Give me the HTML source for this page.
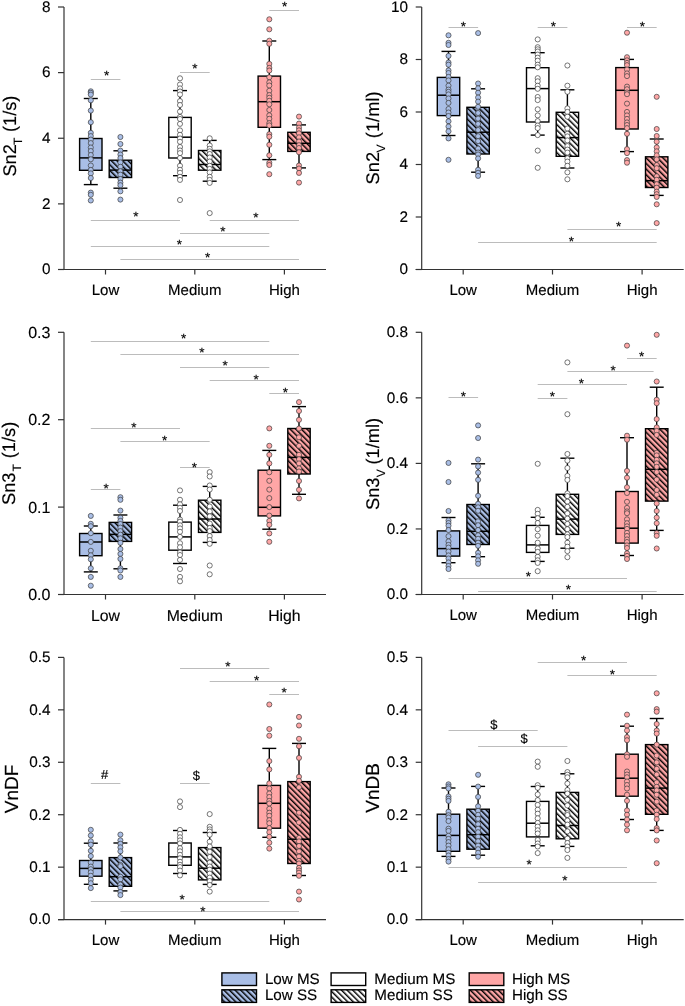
<!DOCTYPE html><html><head><meta charset="utf-8"><style>html,body{margin:0;padding:0;background:#fff;}svg{display:block;will-change:transform;}text{font-family:"Liberation Sans",sans-serif;text-rendering:geometricPrecision;stroke:#000;stroke-width:0.15px;}</style></head><body>
<svg width="685" height="1006" viewBox="0 0 685 1006">
<defs>
<pattern id="hb" patternUnits="userSpaceOnUse" width="3.96" height="3.96" patternTransform="rotate(-45)"><rect width="3.96" height="3.96" fill="#a9bee6"/><rect x="0" y="0" width="1.45" height="3.96" fill="#000"/></pattern>
<pattern id="hw" patternUnits="userSpaceOnUse" width="3.96" height="3.96" patternTransform="rotate(-45)"><rect width="3.96" height="3.96" fill="#ffffff"/><rect x="0" y="0" width="1.45" height="3.96" fill="#000"/></pattern>
<pattern id="hp" patternUnits="userSpaceOnUse" width="3.96" height="3.96" patternTransform="rotate(-45)"><rect width="3.96" height="3.96" fill="#ffa6a6"/><rect x="0" y="0" width="1.45" height="3.96" fill="#000"/></pattern>
</defs>
<rect width="685" height="1006" fill="#fff"/>
<line x1="64" y1="7" x2="64" y2="269.5" stroke="#333333" stroke-width="1.2"/>
<line x1="58" y1="269.5" x2="326" y2="269.5" stroke="#333333" stroke-width="1.2"/>
<line x1="58" y1="269.5" x2="64" y2="269.5" stroke="#333333" stroke-width="1.2"/>
<text x="50.4" y="274.35" font-size="15.3" text-anchor="end" fill="#000">0</text>
<line x1="58" y1="203.88" x2="64" y2="203.88" stroke="#333333" stroke-width="1.2"/>
<text x="50.4" y="208.72" font-size="15.3" text-anchor="end" fill="#000">2</text>
<line x1="58" y1="138.25" x2="64" y2="138.25" stroke="#333333" stroke-width="1.2"/>
<text x="50.4" y="143.1" font-size="15.3" text-anchor="end" fill="#000">4</text>
<line x1="58" y1="72.62" x2="64" y2="72.62" stroke="#333333" stroke-width="1.2"/>
<text x="50.4" y="77.47" font-size="15.3" text-anchor="end" fill="#000">6</text>
<line x1="58" y1="7" x2="64" y2="7" stroke="#333333" stroke-width="1.2"/>
<text x="50.4" y="11.85" font-size="15.3" text-anchor="end" fill="#000">8</text>
<line x1="105.5" y1="269.5" x2="105.5" y2="274.5" stroke="#333333" stroke-width="1.2"/>
<text x="105.5" y="294.6" font-size="15" text-anchor="middle" fill="#000">Low</text>
<line x1="194.8" y1="269.5" x2="194.8" y2="274.5" stroke="#333333" stroke-width="1.2"/>
<text x="194.8" y="294.6" font-size="15" text-anchor="middle" fill="#000">Medium</text>
<line x1="284.4" y1="269.5" x2="284.4" y2="274.5" stroke="#333333" stroke-width="1.2"/>
<text x="284.4" y="294.6" font-size="15" text-anchor="middle" fill="#000">High</text>
<text transform="translate(15.5,176.6) rotate(-90)" font-size="18.3" fill="#000">Sn2</text>
<text transform="translate(22,145) rotate(-90)" font-size="12" fill="#000">T</text>
<text transform="translate(15.5,132.1) rotate(-90)" font-size="18.3" fill="#000">(1/s)</text>
<line x1="421.7" y1="7" x2="421.7" y2="269.5" stroke="#333333" stroke-width="1.2"/>
<line x1="415.7" y1="269.5" x2="683.7" y2="269.5" stroke="#333333" stroke-width="1.2"/>
<line x1="415.7" y1="269.5" x2="421.7" y2="269.5" stroke="#333333" stroke-width="1.2"/>
<text x="408.1" y="274.35" font-size="15.3" text-anchor="end" fill="#000">0</text>
<line x1="415.7" y1="217" x2="421.7" y2="217" stroke="#333333" stroke-width="1.2"/>
<text x="408.1" y="221.85" font-size="15.3" text-anchor="end" fill="#000">2</text>
<line x1="415.7" y1="164.5" x2="421.7" y2="164.5" stroke="#333333" stroke-width="1.2"/>
<text x="408.1" y="169.35" font-size="15.3" text-anchor="end" fill="#000">4</text>
<line x1="415.7" y1="112" x2="421.7" y2="112" stroke="#333333" stroke-width="1.2"/>
<text x="408.1" y="116.85" font-size="15.3" text-anchor="end" fill="#000">6</text>
<line x1="415.7" y1="59.5" x2="421.7" y2="59.5" stroke="#333333" stroke-width="1.2"/>
<text x="408.1" y="64.35" font-size="15.3" text-anchor="end" fill="#000">8</text>
<line x1="415.7" y1="7" x2="421.7" y2="7" stroke="#333333" stroke-width="1.2"/>
<text x="408.1" y="11.85" font-size="15.3" text-anchor="end" fill="#000">10</text>
<line x1="463.2" y1="269.5" x2="463.2" y2="274.5" stroke="#333333" stroke-width="1.2"/>
<text x="463.2" y="294.5" font-size="15" text-anchor="middle" fill="#000">Low</text>
<line x1="552.5" y1="269.5" x2="552.5" y2="274.5" stroke="#333333" stroke-width="1.2"/>
<text x="552.5" y="294.5" font-size="15" text-anchor="middle" fill="#000">Medium</text>
<line x1="642.1" y1="269.5" x2="642.1" y2="274.5" stroke="#333333" stroke-width="1.2"/>
<text x="642.1" y="294.5" font-size="15" text-anchor="middle" fill="#000">High</text>
<text transform="translate(378.9,184.4) rotate(-90)" font-size="18.3" fill="#000">Sn2</text>
<text transform="translate(384.8,152.5) rotate(-90)" font-size="12" fill="#000">V</text>
<text transform="translate(378.9,138.2) rotate(-90)" font-size="18.3" fill="#000">(1/ml)</text>
<line x1="64" y1="332.3" x2="64" y2="594.5" stroke="#333333" stroke-width="1.2"/>
<line x1="58" y1="594.5" x2="326" y2="594.5" stroke="#333333" stroke-width="1.2"/>
<line x1="58" y1="594.5" x2="64" y2="594.5" stroke="#333333" stroke-width="1.2"/>
<text x="50.4" y="600" font-size="16" text-anchor="end" fill="#000">0.0</text>
<line x1="58" y1="507.1" x2="64" y2="507.1" stroke="#333333" stroke-width="1.2"/>
<text x="50.4" y="512.6" font-size="16" text-anchor="end" fill="#000">0.1</text>
<line x1="58" y1="419.7" x2="64" y2="419.7" stroke="#333333" stroke-width="1.2"/>
<text x="50.4" y="425.2" font-size="16" text-anchor="end" fill="#000">0.2</text>
<line x1="58" y1="332.3" x2="64" y2="332.3" stroke="#333333" stroke-width="1.2"/>
<text x="50.4" y="337.8" font-size="16" text-anchor="end" fill="#000">0.3</text>
<line x1="105.5" y1="594.5" x2="105.5" y2="599.5" stroke="#333333" stroke-width="1.2"/>
<text x="105.5" y="621.4" font-size="15.8" text-anchor="middle" fill="#000">Low</text>
<line x1="194.8" y1="594.5" x2="194.8" y2="599.5" stroke="#333333" stroke-width="1.2"/>
<text x="194.8" y="621.4" font-size="15.8" text-anchor="middle" fill="#000">Medium</text>
<line x1="284.4" y1="594.5" x2="284.4" y2="599.5" stroke="#333333" stroke-width="1.2"/>
<text x="284.4" y="621.4" font-size="15.8" text-anchor="middle" fill="#000">High</text>
<text transform="translate(15.2,505) rotate(-90)" font-size="18.3" fill="#000">Sn3</text>
<text transform="translate(20.8,471.6) rotate(-90)" font-size="12" fill="#000">T</text>
<text transform="translate(15.2,458.3) rotate(-90)" font-size="18.3" fill="#000">(1/s)</text>
<line x1="421.7" y1="332.3" x2="421.7" y2="594.5" stroke="#333333" stroke-width="1.2"/>
<line x1="415.7" y1="594.5" x2="683.7" y2="594.5" stroke="#333333" stroke-width="1.2"/>
<line x1="415.7" y1="594.5" x2="421.7" y2="594.5" stroke="#333333" stroke-width="1.2"/>
<text x="408.1" y="599.35" font-size="15.3" text-anchor="end" fill="#000">0.0</text>
<line x1="415.7" y1="528.95" x2="421.7" y2="528.95" stroke="#333333" stroke-width="1.2"/>
<text x="408.1" y="533.8" font-size="15.3" text-anchor="end" fill="#000">0.2</text>
<line x1="415.7" y1="463.4" x2="421.7" y2="463.4" stroke="#333333" stroke-width="1.2"/>
<text x="408.1" y="468.25" font-size="15.3" text-anchor="end" fill="#000">0.4</text>
<line x1="415.7" y1="397.85" x2="421.7" y2="397.85" stroke="#333333" stroke-width="1.2"/>
<text x="408.1" y="402.7" font-size="15.3" text-anchor="end" fill="#000">0.6</text>
<line x1="415.7" y1="332.3" x2="421.7" y2="332.3" stroke="#333333" stroke-width="1.2"/>
<text x="408.1" y="337.15" font-size="15.3" text-anchor="end" fill="#000">0.8</text>
<line x1="463.2" y1="594.5" x2="463.2" y2="599.5" stroke="#333333" stroke-width="1.2"/>
<text x="463.2" y="619.5" font-size="15" text-anchor="middle" fill="#000">Low</text>
<line x1="552.5" y1="594.5" x2="552.5" y2="599.5" stroke="#333333" stroke-width="1.2"/>
<text x="552.5" y="619.5" font-size="15" text-anchor="middle" fill="#000">Medium</text>
<line x1="642.1" y1="594.5" x2="642.1" y2="599.5" stroke="#333333" stroke-width="1.2"/>
<text x="642.1" y="619.5" font-size="15" text-anchor="middle" fill="#000">High</text>
<text transform="translate(378.7,510) rotate(-90)" font-size="18.3" fill="#000">Sn3</text>
<text transform="translate(385.1,477.3) rotate(-90)" font-size="12" fill="#000">V</text>
<text transform="translate(378.7,464.6) rotate(-90)" font-size="18.3" fill="#000">(1/ml)</text>
<line x1="64" y1="657.4" x2="64" y2="919.6" stroke="#333333" stroke-width="1.2"/>
<line x1="58" y1="919.6" x2="326" y2="919.6" stroke="#333333" stroke-width="1.2"/>
<line x1="58" y1="919.6" x2="64" y2="919.6" stroke="#333333" stroke-width="1.2"/>
<text x="50.4" y="924.45" font-size="15.3" text-anchor="end" fill="#000">0.0</text>
<line x1="58" y1="867.16" x2="64" y2="867.16" stroke="#333333" stroke-width="1.2"/>
<text x="50.4" y="872.01" font-size="15.3" text-anchor="end" fill="#000">0.1</text>
<line x1="58" y1="814.72" x2="64" y2="814.72" stroke="#333333" stroke-width="1.2"/>
<text x="50.4" y="819.57" font-size="15.3" text-anchor="end" fill="#000">0.2</text>
<line x1="58" y1="762.28" x2="64" y2="762.28" stroke="#333333" stroke-width="1.2"/>
<text x="50.4" y="767.13" font-size="15.3" text-anchor="end" fill="#000">0.3</text>
<line x1="58" y1="709.84" x2="64" y2="709.84" stroke="#333333" stroke-width="1.2"/>
<text x="50.4" y="714.69" font-size="15.3" text-anchor="end" fill="#000">0.4</text>
<line x1="58" y1="657.4" x2="64" y2="657.4" stroke="#333333" stroke-width="1.2"/>
<text x="50.4" y="662.25" font-size="15.3" text-anchor="end" fill="#000">0.5</text>
<line x1="105.5" y1="919.6" x2="105.5" y2="924.6" stroke="#333333" stroke-width="1.2"/>
<text x="105.5" y="945.2" font-size="15" text-anchor="middle" fill="#000">Low</text>
<line x1="194.8" y1="919.6" x2="194.8" y2="924.6" stroke="#333333" stroke-width="1.2"/>
<text x="194.8" y="945.2" font-size="15" text-anchor="middle" fill="#000">Medium</text>
<line x1="284.4" y1="919.6" x2="284.4" y2="924.6" stroke="#333333" stroke-width="1.2"/>
<text x="284.4" y="945.2" font-size="15" text-anchor="middle" fill="#000">High</text>
<text transform="translate(18.4,813.2) rotate(-90)" font-size="19" fill="#000">VnDF</text>
<line x1="421.7" y1="657.4" x2="421.7" y2="919.6" stroke="#333333" stroke-width="1.2"/>
<line x1="415.7" y1="919.6" x2="683.7" y2="919.6" stroke="#333333" stroke-width="1.2"/>
<line x1="415.7" y1="919.6" x2="421.7" y2="919.6" stroke="#333333" stroke-width="1.2"/>
<text x="408.1" y="924.45" font-size="15.3" text-anchor="end" fill="#000">0.0</text>
<line x1="415.7" y1="867.16" x2="421.7" y2="867.16" stroke="#333333" stroke-width="1.2"/>
<text x="408.1" y="872.01" font-size="15.3" text-anchor="end" fill="#000">0.1</text>
<line x1="415.7" y1="814.72" x2="421.7" y2="814.72" stroke="#333333" stroke-width="1.2"/>
<text x="408.1" y="819.57" font-size="15.3" text-anchor="end" fill="#000">0.2</text>
<line x1="415.7" y1="762.28" x2="421.7" y2="762.28" stroke="#333333" stroke-width="1.2"/>
<text x="408.1" y="767.13" font-size="15.3" text-anchor="end" fill="#000">0.3</text>
<line x1="415.7" y1="709.84" x2="421.7" y2="709.84" stroke="#333333" stroke-width="1.2"/>
<text x="408.1" y="714.69" font-size="15.3" text-anchor="end" fill="#000">0.4</text>
<line x1="415.7" y1="657.4" x2="421.7" y2="657.4" stroke="#333333" stroke-width="1.2"/>
<text x="408.1" y="662.25" font-size="15.3" text-anchor="end" fill="#000">0.5</text>
<line x1="463.2" y1="919.6" x2="463.2" y2="924.6" stroke="#333333" stroke-width="1.2"/>
<text x="463.2" y="944.6" font-size="15" text-anchor="middle" fill="#000">Low</text>
<line x1="552.5" y1="919.6" x2="552.5" y2="924.6" stroke="#333333" stroke-width="1.2"/>
<text x="552.5" y="944.6" font-size="15" text-anchor="middle" fill="#000">Medium</text>
<line x1="642.1" y1="919.6" x2="642.1" y2="924.6" stroke="#333333" stroke-width="1.2"/>
<text x="642.1" y="944.6" font-size="15" text-anchor="middle" fill="#000">High</text>
<text transform="translate(378.7,812.7) rotate(-90)" font-size="19" fill="#000">VnDB</text>
<line x1="90.8" y1="79.5" x2="120.4" y2="79.5" stroke="#bcbcbc" stroke-width="1"/>
<text x="106.6" y="80.4" font-size="13.5" text-anchor="middle" fill="#000" stroke="#000" stroke-width="0.5">*</text>
<line x1="180" y1="72.5" x2="209.7" y2="72.5" stroke="#bcbcbc" stroke-width="1"/>
<text x="194.8" y="72.8" font-size="13.5" text-anchor="middle" fill="#000" stroke="#000" stroke-width="0.5">*</text>
<line x1="269.3" y1="10.5" x2="299" y2="10.5" stroke="#bcbcbc" stroke-width="1"/>
<text x="284.7" y="11.2" font-size="13.5" text-anchor="middle" fill="#000" stroke="#000" stroke-width="0.5">*</text>
<line x1="90.8" y1="220.5" x2="180" y2="220.5" stroke="#bcbcbc" stroke-width="1"/>
<text x="136" y="221.4" font-size="13.5" text-anchor="middle" fill="#000" stroke="#000" stroke-width="0.5">*</text>
<line x1="209.7" y1="220.5" x2="299" y2="220.5" stroke="#bcbcbc" stroke-width="1"/>
<text x="256" y="222" font-size="13.5" text-anchor="middle" fill="#000" stroke="#000" stroke-width="0.5">*</text>
<line x1="180" y1="233.5" x2="269.3" y2="233.5" stroke="#bcbcbc" stroke-width="1"/>
<text x="223" y="236.3" font-size="13.5" text-anchor="middle" fill="#000" stroke="#000" stroke-width="0.5">*</text>
<line x1="90.8" y1="246.5" x2="269.3" y2="246.5" stroke="#bcbcbc" stroke-width="1"/>
<text x="179.4" y="248.7" font-size="13.5" text-anchor="middle" fill="#000" stroke="#000" stroke-width="0.5">*</text>
<line x1="120.4" y1="259.5" x2="299" y2="259.5" stroke="#bcbcbc" stroke-width="1"/>
<text x="207.7" y="261.8" font-size="13.5" text-anchor="middle" fill="#000" stroke="#000" stroke-width="0.5">*</text>
<line x1="448.5" y1="27.5" x2="478.1" y2="27.5" stroke="#bcbcbc" stroke-width="1"/>
<text x="463.4" y="31" font-size="13.5" text-anchor="middle" fill="#000" stroke="#000" stroke-width="0.5">*</text>
<line x1="537.7" y1="27.5" x2="567.4" y2="27.5" stroke="#bcbcbc" stroke-width="1"/>
<text x="553.4" y="31.3" font-size="13.5" text-anchor="middle" fill="#000" stroke="#000" stroke-width="0.5">*</text>
<line x1="627" y1="27.5" x2="656.7" y2="27.5" stroke="#bcbcbc" stroke-width="1"/>
<text x="642.3" y="31.3" font-size="13.5" text-anchor="middle" fill="#000" stroke="#000" stroke-width="0.5">*</text>
<line x1="567.4" y1="229.5" x2="656.7" y2="229.5" stroke="#bcbcbc" stroke-width="1"/>
<text x="618.6" y="231" font-size="13.5" text-anchor="middle" fill="#000" stroke="#000" stroke-width="0.5">*</text>
<line x1="478.1" y1="242.5" x2="656.7" y2="242.5" stroke="#bcbcbc" stroke-width="1"/>
<text x="571.3" y="245.6" font-size="13.5" text-anchor="middle" fill="#000" stroke="#000" stroke-width="0.5">*</text>
<line x1="90.8" y1="341.5" x2="269.3" y2="341.5" stroke="#bcbcbc" stroke-width="1"/>
<text x="183.7" y="343.1" font-size="13.5" text-anchor="middle" fill="#000" stroke="#000" stroke-width="0.5">*</text>
<line x1="120.4" y1="354.5" x2="299" y2="354.5" stroke="#bcbcbc" stroke-width="1"/>
<text x="201.8" y="356.7" font-size="13.5" text-anchor="middle" fill="#000" stroke="#000" stroke-width="0.5">*</text>
<line x1="180" y1="367.5" x2="269.3" y2="367.5" stroke="#bcbcbc" stroke-width="1"/>
<text x="225.1" y="370.1" font-size="13.5" text-anchor="middle" fill="#000" stroke="#000" stroke-width="0.5">*</text>
<line x1="209.7" y1="380.5" x2="299" y2="380.5" stroke="#bcbcbc" stroke-width="1"/>
<text x="256.1" y="383.5" font-size="13.5" text-anchor="middle" fill="#000" stroke="#000" stroke-width="0.5">*</text>
<line x1="269.3" y1="393.5" x2="299" y2="393.5" stroke="#bcbcbc" stroke-width="1"/>
<text x="285.4" y="397.2" font-size="13.5" text-anchor="middle" fill="#000" stroke="#000" stroke-width="0.5">*</text>
<line x1="90.8" y1="428.5" x2="180" y2="428.5" stroke="#bcbcbc" stroke-width="1"/>
<text x="134" y="431.7" font-size="13.5" text-anchor="middle" fill="#000" stroke="#000" stroke-width="0.5">*</text>
<line x1="120.4" y1="441.5" x2="209.7" y2="441.5" stroke="#bcbcbc" stroke-width="1"/>
<text x="164.6" y="444.8" font-size="13.5" text-anchor="middle" fill="#000" stroke="#000" stroke-width="0.5">*</text>
<line x1="180" y1="467.5" x2="209.7" y2="467.5" stroke="#bcbcbc" stroke-width="1"/>
<text x="194.3" y="471.6" font-size="13.5" text-anchor="middle" fill="#000" stroke="#000" stroke-width="0.5">*</text>
<line x1="90.8" y1="489.5" x2="120.4" y2="489.5" stroke="#bcbcbc" stroke-width="1"/>
<text x="106.2" y="493.1" font-size="13.5" text-anchor="middle" fill="#000" stroke="#000" stroke-width="0.5">*</text>
<line x1="448.5" y1="397.5" x2="478.1" y2="397.5" stroke="#bcbcbc" stroke-width="1"/>
<text x="463.4" y="400.6" font-size="13.5" text-anchor="middle" fill="#000" stroke="#000" stroke-width="0.5">*</text>
<line x1="627" y1="358.5" x2="656.7" y2="358.5" stroke="#bcbcbc" stroke-width="1"/>
<text x="641.6" y="361" font-size="13.5" text-anchor="middle" fill="#000" stroke="#000" stroke-width="0.5">*</text>
<line x1="567.4" y1="371.5" x2="653.6" y2="371.5" stroke="#bcbcbc" stroke-width="1"/>
<text x="613.2" y="374.5" font-size="13.5" text-anchor="middle" fill="#000" stroke="#000" stroke-width="0.5">*</text>
<line x1="537.7" y1="384.5" x2="627" y2="384.5" stroke="#bcbcbc" stroke-width="1"/>
<text x="581.5" y="388" font-size="13.5" text-anchor="middle" fill="#000" stroke="#000" stroke-width="0.5">*</text>
<line x1="537.7" y1="398.5" x2="567.4" y2="398.5" stroke="#bcbcbc" stroke-width="1"/>
<text x="552.4" y="400.8" font-size="13.5" text-anchor="middle" fill="#000" stroke="#000" stroke-width="0.5">*</text>
<line x1="448.5" y1="578.5" x2="627" y2="578.5" stroke="#bcbcbc" stroke-width="1"/>
<text x="528.4" y="580.5" font-size="13.5" text-anchor="middle" fill="#000" stroke="#000" stroke-width="0.5">*</text>
<line x1="478.1" y1="591.5" x2="656.7" y2="591.5" stroke="#bcbcbc" stroke-width="1"/>
<text x="568.3" y="594" font-size="13.5" text-anchor="middle" fill="#000" stroke="#000" stroke-width="0.5">*</text>
<line x1="90.8" y1="783.5" x2="120.4" y2="783.5" stroke="#bcbcbc" stroke-width="1"/>
<text x="104.5" y="778.95" font-size="13" text-anchor="middle" fill="#000">#</text>
<line x1="180" y1="783.5" x2="209.7" y2="783.5" stroke="#bcbcbc" stroke-width="1"/>
<text x="196.3" y="779.65" font-size="13" text-anchor="middle" fill="#000">$</text>
<line x1="180" y1="668.5" x2="269.3" y2="668.5" stroke="#bcbcbc" stroke-width="1"/>
<text x="227.8" y="670.6" font-size="13.5" text-anchor="middle" fill="#000" stroke="#000" stroke-width="0.5">*</text>
<line x1="209.7" y1="681.5" x2="299" y2="681.5" stroke="#bcbcbc" stroke-width="1"/>
<text x="256.6" y="684.5" font-size="13.5" text-anchor="middle" fill="#000" stroke="#000" stroke-width="0.5">*</text>
<line x1="269.3" y1="694.5" x2="299" y2="694.5" stroke="#bcbcbc" stroke-width="1"/>
<text x="284.2" y="696.9" font-size="13.5" text-anchor="middle" fill="#000" stroke="#000" stroke-width="0.5">*</text>
<line x1="90.8" y1="901.5" x2="269.3" y2="901.5" stroke="#bcbcbc" stroke-width="1"/>
<text x="182.2" y="903.8" font-size="13.5" text-anchor="middle" fill="#000" stroke="#000" stroke-width="0.5">*</text>
<line x1="120.4" y1="911.5" x2="299" y2="911.5" stroke="#bcbcbc" stroke-width="1"/>
<text x="203" y="915.5" font-size="13.5" text-anchor="middle" fill="#000" stroke="#000" stroke-width="0.5">*</text>
<line x1="537.7" y1="662.5" x2="627" y2="662.5" stroke="#bcbcbc" stroke-width="1"/>
<text x="583.6" y="664.9" font-size="13.5" text-anchor="middle" fill="#000" stroke="#000" stroke-width="0.5">*</text>
<line x1="567.4" y1="675.5" x2="656.7" y2="675.5" stroke="#bcbcbc" stroke-width="1"/>
<text x="612.5" y="678.7" font-size="13.5" text-anchor="middle" fill="#000" stroke="#000" stroke-width="0.5">*</text>
<line x1="448.5" y1="730.5" x2="537.7" y2="730.5" stroke="#bcbcbc" stroke-width="1"/>
<text x="493.9" y="728.95" font-size="13" text-anchor="middle" fill="#000">$</text>
<line x1="478.1" y1="746.5" x2="567.4" y2="746.5" stroke="#bcbcbc" stroke-width="1"/>
<text x="524" y="743.25" font-size="13" text-anchor="middle" fill="#000">$</text>
<line x1="448.5" y1="867.5" x2="627" y2="867.5" stroke="#bcbcbc" stroke-width="1"/>
<text x="529.2" y="869.1" font-size="13.5" text-anchor="middle" fill="#000" stroke="#000" stroke-width="0.5">*</text>
<line x1="478.1" y1="882.5" x2="656.7" y2="882.5" stroke="#bcbcbc" stroke-width="1"/>
<text x="564.9" y="884.9" font-size="13.5" text-anchor="middle" fill="#000" stroke="#000" stroke-width="0.5">*</text>
<line x1="90.8" y1="98.5" x2="90.8" y2="138.5" stroke="#000" stroke-width="1.4"/>
<line x1="90.8" y1="170.3" x2="90.8" y2="184.6" stroke="#000" stroke-width="1.4"/>
<line x1="83.8" y1="98.5" x2="97.8" y2="98.5" stroke="#000" stroke-width="1.4"/>
<line x1="83.8" y1="184.6" x2="97.8" y2="184.6" stroke="#000" stroke-width="1.4"/>
<rect x="79.6" y="138.5" width="22.4" height="31.8" fill="#a9bee6" stroke="#000" stroke-width="1.4"/>
<line x1="79.6" y1="157.9" x2="102" y2="157.9" stroke="#000" stroke-width="1.5"/>
<circle cx="90.8" cy="91.3" r="2.55" fill="#a9bee6" stroke="#3c3c3c" stroke-width="0.7"/>
<circle cx="90.8" cy="92.8" r="2.55" fill="#a9bee6" stroke="#3c3c3c" stroke-width="0.7"/>
<circle cx="90.8" cy="94.6" r="2.55" fill="#a9bee6" stroke="#3c3c3c" stroke-width="0.7"/>
<circle cx="90.8" cy="100.3" r="2.55" fill="#a9bee6" stroke="#3c3c3c" stroke-width="0.7"/>
<circle cx="90.8" cy="110.6" r="2.55" fill="#a9bee6" stroke="#3c3c3c" stroke-width="0.7"/>
<circle cx="90.8" cy="122.2" r="2.55" fill="#a9bee6" stroke="#3c3c3c" stroke-width="0.7"/>
<circle cx="90.8" cy="132.8" r="2.55" fill="#a9bee6" stroke="#3c3c3c" stroke-width="0.7"/>
<circle cx="90.8" cy="136.1" r="2.55" fill="#a9bee6" stroke="#3c3c3c" stroke-width="0.7"/>
<circle cx="90.8" cy="139.6" r="2.55" fill="#a9bee6" stroke="#3c3c3c" stroke-width="0.7"/>
<circle cx="90.8" cy="143.1" r="2.55" fill="#a9bee6" stroke="#3c3c3c" stroke-width="0.7"/>
<circle cx="90.8" cy="147.5" r="2.55" fill="#a9bee6" stroke="#3c3c3c" stroke-width="0.7"/>
<circle cx="90.8" cy="151" r="2.55" fill="#a9bee6" stroke="#3c3c3c" stroke-width="0.7"/>
<circle cx="90.8" cy="155" r="2.55" fill="#a9bee6" stroke="#3c3c3c" stroke-width="0.7"/>
<circle cx="90.8" cy="159.3" r="2.55" fill="#a9bee6" stroke="#3c3c3c" stroke-width="0.7"/>
<circle cx="90.8" cy="165.5" r="2.55" fill="#a9bee6" stroke="#3c3c3c" stroke-width="0.7"/>
<circle cx="90.8" cy="169.9" r="2.55" fill="#a9bee6" stroke="#3c3c3c" stroke-width="0.7"/>
<circle cx="90.8" cy="173.4" r="2.55" fill="#a9bee6" stroke="#3c3c3c" stroke-width="0.7"/>
<circle cx="90.8" cy="178" r="2.55" fill="#a9bee6" stroke="#3c3c3c" stroke-width="0.7"/>
<circle cx="90.8" cy="192.6" r="2.55" fill="#a9bee6" stroke="#3c3c3c" stroke-width="0.7"/>
<circle cx="90.8" cy="194.8" r="2.55" fill="#a9bee6" stroke="#3c3c3c" stroke-width="0.7"/>
<circle cx="90.8" cy="200.5" r="2.55" fill="#a9bee6" stroke="#3c3c3c" stroke-width="0.7"/>
<line x1="120.4" y1="150.8" x2="120.4" y2="160.2" stroke="#000" stroke-width="1.4"/>
<line x1="120.4" y1="177.5" x2="120.4" y2="188.2" stroke="#000" stroke-width="1.4"/>
<line x1="113.4" y1="150.8" x2="127.4" y2="150.8" stroke="#000" stroke-width="1.4"/>
<line x1="113.4" y1="188.2" x2="127.4" y2="188.2" stroke="#000" stroke-width="1.4"/>
<rect x="109.2" y="160.2" width="22.4" height="17.3" fill="url(#hb)" stroke="#000" stroke-width="1.4"/>
<line x1="109.2" y1="170.1" x2="131.6" y2="170.1" stroke="#000" stroke-width="1.5"/>
<circle cx="120.4" cy="137" r="2.55" fill="#a9bee6" stroke="#3c3c3c" stroke-width="0.7"/>
<circle cx="120.4" cy="144" r="2.55" fill="#a9bee6" stroke="#3c3c3c" stroke-width="0.7"/>
<circle cx="120.4" cy="150.6" r="2.55" fill="#a9bee6" stroke="#3c3c3c" stroke-width="0.7"/>
<circle cx="120.4" cy="154.5" r="2.55" fill="#a9bee6" stroke="#3c3c3c" stroke-width="0.7"/>
<circle cx="120.4" cy="158" r="2.55" fill="#a9bee6" stroke="#3c3c3c" stroke-width="0.7"/>
<circle cx="120.4" cy="162.4" r="2.55" fill="#a9bee6" stroke="#3c3c3c" stroke-width="0.7"/>
<circle cx="120.4" cy="166.8" r="2.55" fill="#a9bee6" stroke="#3c3c3c" stroke-width="0.7"/>
<circle cx="120.4" cy="171.2" r="2.55" fill="#a9bee6" stroke="#3c3c3c" stroke-width="0.7"/>
<circle cx="120.4" cy="174.7" r="2.55" fill="#a9bee6" stroke="#3c3c3c" stroke-width="0.7"/>
<circle cx="120.4" cy="179" r="2.55" fill="#a9bee6" stroke="#3c3c3c" stroke-width="0.7"/>
<circle cx="120.4" cy="182.6" r="2.55" fill="#a9bee6" stroke="#3c3c3c" stroke-width="0.7"/>
<circle cx="120.4" cy="185.2" r="2.55" fill="#a9bee6" stroke="#3c3c3c" stroke-width="0.7"/>
<circle cx="120.4" cy="191.3" r="2.55" fill="#a9bee6" stroke="#3c3c3c" stroke-width="0.7"/>
<circle cx="120.4" cy="199.6" r="2.55" fill="#a9bee6" stroke="#3c3c3c" stroke-width="0.7"/>
<line x1="180" y1="90.6" x2="180" y2="117.4" stroke="#000" stroke-width="1.4"/>
<line x1="180" y1="158" x2="180" y2="175.7" stroke="#000" stroke-width="1.4"/>
<line x1="173" y1="90.6" x2="187" y2="90.6" stroke="#000" stroke-width="1.4"/>
<line x1="173" y1="175.7" x2="187" y2="175.7" stroke="#000" stroke-width="1.4"/>
<rect x="168.8" y="117.4" width="22.4" height="40.6" fill="#ffffff" stroke="#000" stroke-width="1.4"/>
<line x1="168.8" y1="137.2" x2="191.2" y2="137.2" stroke="#000" stroke-width="1.5"/>
<circle cx="180" cy="78.3" r="2.55" fill="#ffffff" stroke="#3c3c3c" stroke-width="0.7"/>
<circle cx="180" cy="84.5" r="2.55" fill="#ffffff" stroke="#3c3c3c" stroke-width="0.7"/>
<circle cx="180" cy="88.4" r="2.55" fill="#ffffff" stroke="#3c3c3c" stroke-width="0.7"/>
<circle cx="180" cy="91.5" r="2.55" fill="#ffffff" stroke="#3c3c3c" stroke-width="0.7"/>
<circle cx="180" cy="94.5" r="2.55" fill="#ffffff" stroke="#3c3c3c" stroke-width="0.7"/>
<circle cx="180" cy="101.1" r="2.55" fill="#ffffff" stroke="#3c3c3c" stroke-width="0.7"/>
<circle cx="180" cy="105" r="2.55" fill="#ffffff" stroke="#3c3c3c" stroke-width="0.7"/>
<circle cx="180" cy="111.6" r="2.55" fill="#ffffff" stroke="#3c3c3c" stroke-width="0.7"/>
<circle cx="180" cy="116.9" r="2.55" fill="#ffffff" stroke="#3c3c3c" stroke-width="0.7"/>
<circle cx="180" cy="119" r="2.55" fill="#ffffff" stroke="#3c3c3c" stroke-width="0.7"/>
<circle cx="180" cy="123.9" r="2.55" fill="#ffffff" stroke="#3c3c3c" stroke-width="0.7"/>
<circle cx="180" cy="130.4" r="2.55" fill="#ffffff" stroke="#3c3c3c" stroke-width="0.7"/>
<circle cx="180" cy="134.8" r="2.55" fill="#ffffff" stroke="#3c3c3c" stroke-width="0.7"/>
<circle cx="180" cy="138.5" r="2.55" fill="#ffffff" stroke="#3c3c3c" stroke-width="0.7"/>
<circle cx="180" cy="141.8" r="2.55" fill="#ffffff" stroke="#3c3c3c" stroke-width="0.7"/>
<circle cx="180" cy="147" r="2.55" fill="#ffffff" stroke="#3c3c3c" stroke-width="0.7"/>
<circle cx="180" cy="150.5" r="2.55" fill="#ffffff" stroke="#3c3c3c" stroke-width="0.7"/>
<circle cx="180" cy="153.1" r="2.55" fill="#ffffff" stroke="#3c3c3c" stroke-width="0.7"/>
<circle cx="180" cy="158" r="2.55" fill="#ffffff" stroke="#3c3c3c" stroke-width="0.7"/>
<circle cx="180" cy="165.8" r="2.55" fill="#ffffff" stroke="#3c3c3c" stroke-width="0.7"/>
<circle cx="180" cy="169.8" r="2.55" fill="#ffffff" stroke="#3c3c3c" stroke-width="0.7"/>
<circle cx="180" cy="172.8" r="2.55" fill="#ffffff" stroke="#3c3c3c" stroke-width="0.7"/>
<circle cx="180" cy="176.8" r="2.55" fill="#ffffff" stroke="#3c3c3c" stroke-width="0.7"/>
<circle cx="180" cy="179.9" r="2.55" fill="#ffffff" stroke="#3c3c3c" stroke-width="0.7"/>
<circle cx="180" cy="200" r="2.55" fill="#ffffff" stroke="#3c3c3c" stroke-width="0.7"/>
<line x1="209.7" y1="140.4" x2="209.7" y2="150.5" stroke="#000" stroke-width="1.4"/>
<line x1="209.7" y1="170.2" x2="209.7" y2="181.2" stroke="#000" stroke-width="1.4"/>
<line x1="202.7" y1="140.4" x2="216.7" y2="140.4" stroke="#000" stroke-width="1.4"/>
<line x1="202.7" y1="181.2" x2="216.7" y2="181.2" stroke="#000" stroke-width="1.4"/>
<rect x="198.5" y="150.5" width="22.4" height="19.7" fill="url(#hw)" stroke="#000" stroke-width="1.4"/>
<line x1="198.5" y1="164.5" x2="220.9" y2="164.5" stroke="#000" stroke-width="1.5"/>
<circle cx="209.7" cy="138.3" r="2.55" fill="#ffffff" stroke="#3c3c3c" stroke-width="0.7"/>
<circle cx="209.7" cy="145.5" r="2.55" fill="#ffffff" stroke="#3c3c3c" stroke-width="0.7"/>
<circle cx="209.7" cy="148.8" r="2.55" fill="#ffffff" stroke="#3c3c3c" stroke-width="0.7"/>
<circle cx="209.7" cy="151.4" r="2.55" fill="#ffffff" stroke="#3c3c3c" stroke-width="0.7"/>
<circle cx="209.7" cy="154" r="2.55" fill="#ffffff" stroke="#3c3c3c" stroke-width="0.7"/>
<circle cx="209.7" cy="157.5" r="2.55" fill="#ffffff" stroke="#3c3c3c" stroke-width="0.7"/>
<circle cx="209.7" cy="161.5" r="2.55" fill="#ffffff" stroke="#3c3c3c" stroke-width="0.7"/>
<circle cx="209.7" cy="165.8" r="2.55" fill="#ffffff" stroke="#3c3c3c" stroke-width="0.7"/>
<circle cx="209.7" cy="168.9" r="2.55" fill="#ffffff" stroke="#3c3c3c" stroke-width="0.7"/>
<circle cx="209.7" cy="172.4" r="2.55" fill="#ffffff" stroke="#3c3c3c" stroke-width="0.7"/>
<circle cx="209.7" cy="176.8" r="2.55" fill="#ffffff" stroke="#3c3c3c" stroke-width="0.7"/>
<circle cx="209.7" cy="179.9" r="2.55" fill="#ffffff" stroke="#3c3c3c" stroke-width="0.7"/>
<circle cx="209.7" cy="182.9" r="2.55" fill="#ffffff" stroke="#3c3c3c" stroke-width="0.7"/>
<circle cx="209.7" cy="213.1" r="2.55" fill="#ffffff" stroke="#3c3c3c" stroke-width="0.7"/>
<line x1="269.3" y1="41" x2="269.3" y2="76.1" stroke="#000" stroke-width="1.4"/>
<line x1="269.3" y1="127.3" x2="269.3" y2="159.6" stroke="#000" stroke-width="1.4"/>
<line x1="262.3" y1="41" x2="276.3" y2="41" stroke="#000" stroke-width="1.4"/>
<line x1="262.3" y1="159.6" x2="276.3" y2="159.6" stroke="#000" stroke-width="1.4"/>
<rect x="258.1" y="76.1" width="22.4" height="51.2" fill="#ffa6a6" stroke="#000" stroke-width="1.4"/>
<line x1="258.1" y1="101.7" x2="280.5" y2="101.7" stroke="#000" stroke-width="1.5"/>
<circle cx="269.3" cy="19.3" r="2.55" fill="#ffa6a6" stroke="#3c3c3c" stroke-width="0.7"/>
<circle cx="269.3" cy="29.3" r="2.55" fill="#ffa6a6" stroke="#3c3c3c" stroke-width="0.7"/>
<circle cx="269.3" cy="40.7" r="2.55" fill="#ffa6a6" stroke="#3c3c3c" stroke-width="0.7"/>
<circle cx="269.3" cy="43.8" r="2.55" fill="#ffa6a6" stroke="#3c3c3c" stroke-width="0.7"/>
<circle cx="269.3" cy="63.9" r="2.55" fill="#ffa6a6" stroke="#3c3c3c" stroke-width="0.7"/>
<circle cx="269.3" cy="67.9" r="2.55" fill="#ffa6a6" stroke="#3c3c3c" stroke-width="0.7"/>
<circle cx="269.3" cy="70.5" r="2.55" fill="#ffa6a6" stroke="#3c3c3c" stroke-width="0.7"/>
<circle cx="269.3" cy="77.3" r="2.55" fill="#ffa6a6" stroke="#3c3c3c" stroke-width="0.7"/>
<circle cx="269.3" cy="82.4" r="2.55" fill="#ffa6a6" stroke="#3c3c3c" stroke-width="0.7"/>
<circle cx="269.3" cy="85.5" r="2.55" fill="#ffa6a6" stroke="#3c3c3c" stroke-width="0.7"/>
<circle cx="269.3" cy="90.8" r="2.55" fill="#ffa6a6" stroke="#3c3c3c" stroke-width="0.7"/>
<circle cx="269.3" cy="95.1" r="2.55" fill="#ffa6a6" stroke="#3c3c3c" stroke-width="0.7"/>
<circle cx="269.3" cy="97.8" r="2.55" fill="#ffa6a6" stroke="#3c3c3c" stroke-width="0.7"/>
<circle cx="269.3" cy="100.8" r="2.55" fill="#ffa6a6" stroke="#3c3c3c" stroke-width="0.7"/>
<circle cx="269.3" cy="104.3" r="2.55" fill="#ffa6a6" stroke="#3c3c3c" stroke-width="0.7"/>
<circle cx="269.3" cy="110" r="2.55" fill="#ffa6a6" stroke="#3c3c3c" stroke-width="0.7"/>
<circle cx="269.3" cy="115.3" r="2.55" fill="#ffa6a6" stroke="#3c3c3c" stroke-width="0.7"/>
<circle cx="269.3" cy="118.8" r="2.55" fill="#ffa6a6" stroke="#3c3c3c" stroke-width="0.7"/>
<circle cx="269.3" cy="123.2" r="2.55" fill="#ffa6a6" stroke="#3c3c3c" stroke-width="0.7"/>
<circle cx="269.3" cy="125.4" r="2.55" fill="#ffa6a6" stroke="#3c3c3c" stroke-width="0.7"/>
<circle cx="269.3" cy="134.2" r="2.55" fill="#ffa6a6" stroke="#3c3c3c" stroke-width="0.7"/>
<circle cx="269.3" cy="136.7" r="2.55" fill="#ffa6a6" stroke="#3c3c3c" stroke-width="0.7"/>
<circle cx="269.3" cy="144.8" r="2.55" fill="#ffa6a6" stroke="#3c3c3c" stroke-width="0.7"/>
<circle cx="269.3" cy="155.3" r="2.55" fill="#ffa6a6" stroke="#3c3c3c" stroke-width="0.7"/>
<circle cx="269.3" cy="162.8" r="2.55" fill="#ffa6a6" stroke="#3c3c3c" stroke-width="0.7"/>
<circle cx="269.3" cy="165" r="2.55" fill="#ffa6a6" stroke="#3c3c3c" stroke-width="0.7"/>
<circle cx="269.3" cy="174.2" r="2.55" fill="#ffa6a6" stroke="#3c3c3c" stroke-width="0.7"/>
<line x1="299" y1="124.9" x2="299" y2="132.3" stroke="#000" stroke-width="1.4"/>
<line x1="299" y1="151.4" x2="299" y2="167.9" stroke="#000" stroke-width="1.4"/>
<line x1="292" y1="124.9" x2="306" y2="124.9" stroke="#000" stroke-width="1.4"/>
<line x1="292" y1="167.9" x2="306" y2="167.9" stroke="#000" stroke-width="1.4"/>
<rect x="287.8" y="132.3" width="22.4" height="19.1" fill="url(#hp)" stroke="#000" stroke-width="1.4"/>
<line x1="287.8" y1="143.3" x2="310.2" y2="143.3" stroke="#000" stroke-width="1.5"/>
<circle cx="299" cy="116.6" r="2.55" fill="#ffa6a6" stroke="#3c3c3c" stroke-width="0.7"/>
<circle cx="299" cy="123.6" r="2.55" fill="#ffa6a6" stroke="#3c3c3c" stroke-width="0.7"/>
<circle cx="299" cy="127.6" r="2.55" fill="#ffa6a6" stroke="#3c3c3c" stroke-width="0.7"/>
<circle cx="299" cy="130.3" r="2.55" fill="#ffa6a6" stroke="#3c3c3c" stroke-width="0.7"/>
<circle cx="299" cy="133.3" r="2.55" fill="#ffa6a6" stroke="#3c3c3c" stroke-width="0.7"/>
<circle cx="299" cy="137.3" r="2.55" fill="#ffa6a6" stroke="#3c3c3c" stroke-width="0.7"/>
<circle cx="299" cy="141.5" r="2.55" fill="#ffa6a6" stroke="#3c3c3c" stroke-width="0.7"/>
<circle cx="299" cy="145.2" r="2.55" fill="#ffa6a6" stroke="#3c3c3c" stroke-width="0.7"/>
<circle cx="299" cy="148" r="2.55" fill="#ffa6a6" stroke="#3c3c3c" stroke-width="0.7"/>
<circle cx="299" cy="152.2" r="2.55" fill="#ffa6a6" stroke="#3c3c3c" stroke-width="0.7"/>
<circle cx="299" cy="165.5" r="2.55" fill="#ffa6a6" stroke="#3c3c3c" stroke-width="0.7"/>
<circle cx="299" cy="168.5" r="2.55" fill="#ffa6a6" stroke="#3c3c3c" stroke-width="0.7"/>
<circle cx="299" cy="172.9" r="2.55" fill="#ffa6a6" stroke="#3c3c3c" stroke-width="0.7"/>
<circle cx="299" cy="182.6" r="2.55" fill="#ffa6a6" stroke="#3c3c3c" stroke-width="0.7"/>
<line x1="448.5" y1="51.4" x2="448.5" y2="77.4" stroke="#000" stroke-width="1.4"/>
<line x1="448.5" y1="115.6" x2="448.5" y2="135.5" stroke="#000" stroke-width="1.4"/>
<line x1="441.5" y1="51.4" x2="455.5" y2="51.4" stroke="#000" stroke-width="1.4"/>
<line x1="441.5" y1="135.5" x2="455.5" y2="135.5" stroke="#000" stroke-width="1.4"/>
<rect x="437.3" y="77.4" width="22.4" height="38.2" fill="#a9bee6" stroke="#000" stroke-width="1.4"/>
<line x1="437.3" y1="95.2" x2="459.7" y2="95.2" stroke="#000" stroke-width="1.5"/>
<circle cx="448.5" cy="35.3" r="2.55" fill="#a9bee6" stroke="#3c3c3c" stroke-width="0.7"/>
<circle cx="448.5" cy="42.8" r="2.55" fill="#a9bee6" stroke="#3c3c3c" stroke-width="0.7"/>
<circle cx="448.5" cy="45" r="2.55" fill="#a9bee6" stroke="#3c3c3c" stroke-width="0.7"/>
<circle cx="448.5" cy="55.9" r="2.55" fill="#a9bee6" stroke="#3c3c3c" stroke-width="0.7"/>
<circle cx="448.5" cy="62.5" r="2.55" fill="#a9bee6" stroke="#3c3c3c" stroke-width="0.7"/>
<circle cx="448.5" cy="64.7" r="2.55" fill="#a9bee6" stroke="#3c3c3c" stroke-width="0.7"/>
<circle cx="448.5" cy="70.4" r="2.55" fill="#a9bee6" stroke="#3c3c3c" stroke-width="0.7"/>
<circle cx="448.5" cy="73" r="2.55" fill="#a9bee6" stroke="#3c3c3c" stroke-width="0.7"/>
<circle cx="448.5" cy="76.9" r="2.55" fill="#a9bee6" stroke="#3c3c3c" stroke-width="0.7"/>
<circle cx="448.5" cy="80.4" r="2.55" fill="#a9bee6" stroke="#3c3c3c" stroke-width="0.7"/>
<circle cx="448.5" cy="85.7" r="2.55" fill="#a9bee6" stroke="#3c3c3c" stroke-width="0.7"/>
<circle cx="448.5" cy="89.6" r="2.55" fill="#a9bee6" stroke="#3c3c3c" stroke-width="0.7"/>
<circle cx="448.5" cy="91.8" r="2.55" fill="#a9bee6" stroke="#3c3c3c" stroke-width="0.7"/>
<circle cx="448.5" cy="94.4" r="2.55" fill="#a9bee6" stroke="#3c3c3c" stroke-width="0.7"/>
<circle cx="448.5" cy="98.4" r="2.55" fill="#a9bee6" stroke="#3c3c3c" stroke-width="0.7"/>
<circle cx="448.5" cy="102.9" r="2.55" fill="#a9bee6" stroke="#3c3c3c" stroke-width="0.7"/>
<circle cx="448.5" cy="109" r="2.55" fill="#a9bee6" stroke="#3c3c3c" stroke-width="0.7"/>
<circle cx="448.5" cy="112.5" r="2.55" fill="#a9bee6" stroke="#3c3c3c" stroke-width="0.7"/>
<circle cx="448.5" cy="116" r="2.55" fill="#a9bee6" stroke="#3c3c3c" stroke-width="0.7"/>
<circle cx="448.5" cy="121.3" r="2.55" fill="#a9bee6" stroke="#3c3c3c" stroke-width="0.7"/>
<circle cx="448.5" cy="126.5" r="2.55" fill="#a9bee6" stroke="#3c3c3c" stroke-width="0.7"/>
<circle cx="448.5" cy="131.3" r="2.55" fill="#a9bee6" stroke="#3c3c3c" stroke-width="0.7"/>
<circle cx="448.5" cy="138.4" r="2.55" fill="#a9bee6" stroke="#3c3c3c" stroke-width="0.7"/>
<circle cx="448.5" cy="159.8" r="2.55" fill="#a9bee6" stroke="#3c3c3c" stroke-width="0.7"/>
<line x1="478.1" y1="88.8" x2="478.1" y2="107.3" stroke="#000" stroke-width="1.4"/>
<line x1="478.1" y1="154" x2="478.1" y2="172.2" stroke="#000" stroke-width="1.4"/>
<line x1="471.1" y1="88.8" x2="485.1" y2="88.8" stroke="#000" stroke-width="1.4"/>
<line x1="471.1" y1="172.2" x2="485.1" y2="172.2" stroke="#000" stroke-width="1.4"/>
<rect x="466.9" y="107.3" width="22.4" height="46.7" fill="url(#hb)" stroke="#000" stroke-width="1.4"/>
<line x1="466.9" y1="132.2" x2="489.3" y2="132.2" stroke="#000" stroke-width="1.5"/>
<circle cx="478.1" cy="33.1" r="2.55" fill="#a9bee6" stroke="#3c3c3c" stroke-width="0.7"/>
<circle cx="478.1" cy="83.5" r="2.55" fill="#a9bee6" stroke="#3c3c3c" stroke-width="0.7"/>
<circle cx="478.1" cy="88.3" r="2.55" fill="#a9bee6" stroke="#3c3c3c" stroke-width="0.7"/>
<circle cx="478.1" cy="92.7" r="2.55" fill="#a9bee6" stroke="#3c3c3c" stroke-width="0.7"/>
<circle cx="478.1" cy="97.5" r="2.55" fill="#a9bee6" stroke="#3c3c3c" stroke-width="0.7"/>
<circle cx="478.1" cy="101.6" r="2.55" fill="#a9bee6" stroke="#3c3c3c" stroke-width="0.7"/>
<circle cx="478.1" cy="106.8" r="2.55" fill="#a9bee6" stroke="#3c3c3c" stroke-width="0.7"/>
<circle cx="478.1" cy="113" r="2.55" fill="#a9bee6" stroke="#3c3c3c" stroke-width="0.7"/>
<circle cx="478.1" cy="118.6" r="2.55" fill="#a9bee6" stroke="#3c3c3c" stroke-width="0.7"/>
<circle cx="478.1" cy="123.9" r="2.55" fill="#a9bee6" stroke="#3c3c3c" stroke-width="0.7"/>
<circle cx="478.1" cy="130" r="2.55" fill="#a9bee6" stroke="#3c3c3c" stroke-width="0.7"/>
<circle cx="478.1" cy="136.2" r="2.55" fill="#a9bee6" stroke="#3c3c3c" stroke-width="0.7"/>
<circle cx="478.1" cy="141.1" r="2.55" fill="#a9bee6" stroke="#3c3c3c" stroke-width="0.7"/>
<circle cx="478.1" cy="148.6" r="2.55" fill="#a9bee6" stroke="#3c3c3c" stroke-width="0.7"/>
<circle cx="478.1" cy="152.5" r="2.55" fill="#a9bee6" stroke="#3c3c3c" stroke-width="0.7"/>
<circle cx="478.1" cy="154.5" r="2.55" fill="#a9bee6" stroke="#3c3c3c" stroke-width="0.7"/>
<circle cx="478.1" cy="158.4" r="2.55" fill="#a9bee6" stroke="#3c3c3c" stroke-width="0.7"/>
<circle cx="478.1" cy="169.8" r="2.55" fill="#a9bee6" stroke="#3c3c3c" stroke-width="0.7"/>
<circle cx="478.1" cy="172.8" r="2.55" fill="#a9bee6" stroke="#3c3c3c" stroke-width="0.7"/>
<circle cx="478.1" cy="175.9" r="2.55" fill="#a9bee6" stroke="#3c3c3c" stroke-width="0.7"/>
<line x1="537.7" y1="52.7" x2="537.7" y2="67.7" stroke="#000" stroke-width="1.4"/>
<line x1="537.7" y1="122" x2="537.7" y2="135.1" stroke="#000" stroke-width="1.4"/>
<line x1="530.7" y1="52.7" x2="544.7" y2="52.7" stroke="#000" stroke-width="1.4"/>
<line x1="530.7" y1="135.1" x2="544.7" y2="135.1" stroke="#000" stroke-width="1.4"/>
<rect x="526.5" y="67.7" width="22.4" height="54.3" fill="#ffffff" stroke="#000" stroke-width="1.4"/>
<line x1="526.5" y1="88.6" x2="548.9" y2="88.6" stroke="#000" stroke-width="1.5"/>
<circle cx="537.7" cy="39.4" r="2.55" fill="#ffffff" stroke="#3c3c3c" stroke-width="0.7"/>
<circle cx="537.7" cy="47.2" r="2.55" fill="#ffffff" stroke="#3c3c3c" stroke-width="0.7"/>
<circle cx="537.7" cy="49.3" r="2.55" fill="#ffffff" stroke="#3c3c3c" stroke-width="0.7"/>
<circle cx="537.7" cy="51.5" r="2.55" fill="#ffffff" stroke="#3c3c3c" stroke-width="0.7"/>
<circle cx="537.7" cy="54.6" r="2.55" fill="#ffffff" stroke="#3c3c3c" stroke-width="0.7"/>
<circle cx="537.7" cy="57.7" r="2.55" fill="#ffffff" stroke="#3c3c3c" stroke-width="0.7"/>
<circle cx="537.7" cy="60.7" r="2.55" fill="#ffffff" stroke="#3c3c3c" stroke-width="0.7"/>
<circle cx="537.7" cy="64.7" r="2.55" fill="#ffffff" stroke="#3c3c3c" stroke-width="0.7"/>
<circle cx="537.7" cy="67.3" r="2.55" fill="#ffffff" stroke="#3c3c3c" stroke-width="0.7"/>
<circle cx="537.7" cy="78.2" r="2.55" fill="#ffffff" stroke="#3c3c3c" stroke-width="0.7"/>
<circle cx="537.7" cy="81.3" r="2.55" fill="#ffffff" stroke="#3c3c3c" stroke-width="0.7"/>
<circle cx="537.7" cy="85.7" r="2.55" fill="#ffffff" stroke="#3c3c3c" stroke-width="0.7"/>
<circle cx="537.7" cy="88.8" r="2.55" fill="#ffffff" stroke="#3c3c3c" stroke-width="0.7"/>
<circle cx="537.7" cy="97" r="2.55" fill="#ffffff" stroke="#3c3c3c" stroke-width="0.7"/>
<circle cx="537.7" cy="100.1" r="2.55" fill="#ffffff" stroke="#3c3c3c" stroke-width="0.7"/>
<circle cx="537.7" cy="109.3" r="2.55" fill="#ffffff" stroke="#3c3c3c" stroke-width="0.7"/>
<circle cx="537.7" cy="115.4" r="2.55" fill="#ffffff" stroke="#3c3c3c" stroke-width="0.7"/>
<circle cx="537.7" cy="121.1" r="2.55" fill="#ffffff" stroke="#3c3c3c" stroke-width="0.7"/>
<circle cx="537.7" cy="125.5" r="2.55" fill="#ffffff" stroke="#3c3c3c" stroke-width="0.7"/>
<circle cx="537.7" cy="128.1" r="2.55" fill="#ffffff" stroke="#3c3c3c" stroke-width="0.7"/>
<circle cx="537.7" cy="135.1" r="2.55" fill="#ffffff" stroke="#3c3c3c" stroke-width="0.7"/>
<circle cx="537.7" cy="150.6" r="2.55" fill="#ffffff" stroke="#3c3c3c" stroke-width="0.7"/>
<circle cx="537.7" cy="167.8" r="2.55" fill="#ffffff" stroke="#3c3c3c" stroke-width="0.7"/>
<line x1="567.4" y1="89.8" x2="567.4" y2="112.3" stroke="#000" stroke-width="1.4"/>
<line x1="567.4" y1="156.3" x2="567.4" y2="168" stroke="#000" stroke-width="1.4"/>
<line x1="560.4" y1="89.8" x2="574.4" y2="89.8" stroke="#000" stroke-width="1.4"/>
<line x1="560.4" y1="168" x2="574.4" y2="168" stroke="#000" stroke-width="1.4"/>
<rect x="556.2" y="112.3" width="22.4" height="44" fill="url(#hw)" stroke="#000" stroke-width="1.4"/>
<line x1="556.2" y1="137.6" x2="578.6" y2="137.6" stroke="#000" stroke-width="1.5"/>
<circle cx="567.4" cy="65.5" r="2.55" fill="#ffffff" stroke="#3c3c3c" stroke-width="0.7"/>
<circle cx="567.4" cy="85.7" r="2.55" fill="#ffffff" stroke="#3c3c3c" stroke-width="0.7"/>
<circle cx="567.4" cy="91.8" r="2.55" fill="#ffffff" stroke="#3c3c3c" stroke-width="0.7"/>
<circle cx="567.4" cy="108.4" r="2.55" fill="#ffffff" stroke="#3c3c3c" stroke-width="0.7"/>
<circle cx="567.4" cy="111.9" r="2.55" fill="#ffffff" stroke="#3c3c3c" stroke-width="0.7"/>
<circle cx="567.4" cy="116.7" r="2.55" fill="#ffffff" stroke="#3c3c3c" stroke-width="0.7"/>
<circle cx="567.4" cy="128.5" r="2.55" fill="#ffffff" stroke="#3c3c3c" stroke-width="0.7"/>
<circle cx="567.4" cy="133.8" r="2.55" fill="#ffffff" stroke="#3c3c3c" stroke-width="0.7"/>
<circle cx="567.4" cy="136.4" r="2.55" fill="#ffffff" stroke="#3c3c3c" stroke-width="0.7"/>
<circle cx="567.4" cy="140.4" r="2.55" fill="#ffffff" stroke="#3c3c3c" stroke-width="0.7"/>
<circle cx="567.4" cy="146.1" r="2.55" fill="#ffffff" stroke="#3c3c3c" stroke-width="0.7"/>
<circle cx="567.4" cy="149.6" r="2.55" fill="#ffffff" stroke="#3c3c3c" stroke-width="0.7"/>
<circle cx="567.4" cy="152.6" r="2.55" fill="#ffffff" stroke="#3c3c3c" stroke-width="0.7"/>
<circle cx="567.4" cy="158.3" r="2.55" fill="#ffffff" stroke="#3c3c3c" stroke-width="0.7"/>
<circle cx="567.4" cy="161.6" r="2.55" fill="#ffffff" stroke="#3c3c3c" stroke-width="0.7"/>
<circle cx="567.4" cy="165.8" r="2.55" fill="#ffffff" stroke="#3c3c3c" stroke-width="0.7"/>
<circle cx="567.4" cy="172.3" r="2.55" fill="#ffffff" stroke="#3c3c3c" stroke-width="0.7"/>
<circle cx="567.4" cy="179.3" r="2.55" fill="#ffffff" stroke="#3c3c3c" stroke-width="0.7"/>
<line x1="627" y1="59.4" x2="627" y2="67.6" stroke="#000" stroke-width="1.4"/>
<line x1="627" y1="129" x2="627" y2="151.6" stroke="#000" stroke-width="1.4"/>
<line x1="620" y1="59.4" x2="634" y2="59.4" stroke="#000" stroke-width="1.4"/>
<line x1="620" y1="151.6" x2="634" y2="151.6" stroke="#000" stroke-width="1.4"/>
<rect x="615.8" y="67.6" width="22.4" height="61.4" fill="#ffa6a6" stroke="#000" stroke-width="1.4"/>
<line x1="615.8" y1="90.3" x2="638.2" y2="90.3" stroke="#000" stroke-width="1.5"/>
<circle cx="627" cy="32.7" r="2.55" fill="#ffa6a6" stroke="#3c3c3c" stroke-width="0.7"/>
<circle cx="627" cy="57.2" r="2.55" fill="#ffa6a6" stroke="#3c3c3c" stroke-width="0.7"/>
<circle cx="627" cy="60.3" r="2.55" fill="#ffa6a6" stroke="#3c3c3c" stroke-width="0.7"/>
<circle cx="627" cy="62.9" r="2.55" fill="#ffa6a6" stroke="#3c3c3c" stroke-width="0.7"/>
<circle cx="627" cy="65.1" r="2.55" fill="#ffa6a6" stroke="#3c3c3c" stroke-width="0.7"/>
<circle cx="627" cy="69.5" r="2.55" fill="#ffa6a6" stroke="#3c3c3c" stroke-width="0.7"/>
<circle cx="627" cy="73.4" r="2.55" fill="#ffa6a6" stroke="#3c3c3c" stroke-width="0.7"/>
<circle cx="627" cy="76.1" r="2.55" fill="#ffa6a6" stroke="#3c3c3c" stroke-width="0.7"/>
<circle cx="627" cy="86.6" r="2.55" fill="#ffa6a6" stroke="#3c3c3c" stroke-width="0.7"/>
<circle cx="627" cy="89.2" r="2.55" fill="#ffa6a6" stroke="#3c3c3c" stroke-width="0.7"/>
<circle cx="627" cy="92.5" r="2.55" fill="#ffa6a6" stroke="#3c3c3c" stroke-width="0.7"/>
<circle cx="627" cy="94.2" r="2.55" fill="#ffa6a6" stroke="#3c3c3c" stroke-width="0.7"/>
<circle cx="627" cy="103.6" r="2.55" fill="#ffa6a6" stroke="#3c3c3c" stroke-width="0.7"/>
<circle cx="627" cy="111.9" r="2.55" fill="#ffa6a6" stroke="#3c3c3c" stroke-width="0.7"/>
<circle cx="627" cy="115.4" r="2.55" fill="#ffa6a6" stroke="#3c3c3c" stroke-width="0.7"/>
<circle cx="627" cy="118.9" r="2.55" fill="#ffa6a6" stroke="#3c3c3c" stroke-width="0.7"/>
<circle cx="627" cy="122.4" r="2.55" fill="#ffa6a6" stroke="#3c3c3c" stroke-width="0.7"/>
<circle cx="627" cy="125" r="2.55" fill="#ffa6a6" stroke="#3c3c3c" stroke-width="0.7"/>
<circle cx="627" cy="128.1" r="2.55" fill="#ffa6a6" stroke="#3c3c3c" stroke-width="0.7"/>
<circle cx="627" cy="133.8" r="2.55" fill="#ffa6a6" stroke="#3c3c3c" stroke-width="0.7"/>
<circle cx="627" cy="149.1" r="2.55" fill="#ffa6a6" stroke="#3c3c3c" stroke-width="0.7"/>
<circle cx="627" cy="153.1" r="2.55" fill="#ffa6a6" stroke="#3c3c3c" stroke-width="0.7"/>
<circle cx="627" cy="160.1" r="2.55" fill="#ffa6a6" stroke="#3c3c3c" stroke-width="0.7"/>
<circle cx="627" cy="162.7" r="2.55" fill="#ffa6a6" stroke="#3c3c3c" stroke-width="0.7"/>
<line x1="656.7" y1="139" x2="656.7" y2="156.8" stroke="#000" stroke-width="1.4"/>
<line x1="656.7" y1="187.5" x2="656.7" y2="195.4" stroke="#000" stroke-width="1.4"/>
<line x1="649.7" y1="139" x2="663.7" y2="139" stroke="#000" stroke-width="1.4"/>
<line x1="649.7" y1="195.4" x2="663.7" y2="195.4" stroke="#000" stroke-width="1.4"/>
<rect x="645.5" y="156.8" width="22.4" height="30.7" fill="url(#hp)" stroke="#000" stroke-width="1.4"/>
<line x1="645.5" y1="180.7" x2="667.9" y2="180.7" stroke="#000" stroke-width="1.5"/>
<circle cx="656.7" cy="96.8" r="2.55" fill="#ffa6a6" stroke="#3c3c3c" stroke-width="0.7"/>
<circle cx="656.7" cy="129" r="2.55" fill="#ffa6a6" stroke="#3c3c3c" stroke-width="0.7"/>
<circle cx="656.7" cy="136" r="2.55" fill="#ffa6a6" stroke="#3c3c3c" stroke-width="0.7"/>
<circle cx="656.7" cy="141.7" r="2.55" fill="#ffa6a6" stroke="#3c3c3c" stroke-width="0.7"/>
<circle cx="656.7" cy="147.4" r="2.55" fill="#ffa6a6" stroke="#3c3c3c" stroke-width="0.7"/>
<circle cx="656.7" cy="151.3" r="2.55" fill="#ffa6a6" stroke="#3c3c3c" stroke-width="0.7"/>
<circle cx="656.7" cy="155.3" r="2.55" fill="#ffa6a6" stroke="#3c3c3c" stroke-width="0.7"/>
<circle cx="656.7" cy="159.4" r="2.55" fill="#ffa6a6" stroke="#3c3c3c" stroke-width="0.7"/>
<circle cx="656.7" cy="165.1" r="2.55" fill="#ffa6a6" stroke="#3c3c3c" stroke-width="0.7"/>
<circle cx="656.7" cy="168.2" r="2.55" fill="#ffa6a6" stroke="#3c3c3c" stroke-width="0.7"/>
<circle cx="656.7" cy="176.3" r="2.55" fill="#ffa6a6" stroke="#3c3c3c" stroke-width="0.7"/>
<circle cx="656.7" cy="179.8" r="2.55" fill="#ffa6a6" stroke="#3c3c3c" stroke-width="0.7"/>
<circle cx="656.7" cy="184.2" r="2.55" fill="#ffa6a6" stroke="#3c3c3c" stroke-width="0.7"/>
<circle cx="656.7" cy="187.7" r="2.55" fill="#ffa6a6" stroke="#3c3c3c" stroke-width="0.7"/>
<circle cx="656.7" cy="191.6" r="2.55" fill="#ffa6a6" stroke="#3c3c3c" stroke-width="0.7"/>
<circle cx="656.7" cy="194.2" r="2.55" fill="#ffa6a6" stroke="#3c3c3c" stroke-width="0.7"/>
<circle cx="656.7" cy="196.9" r="2.55" fill="#ffa6a6" stroke="#3c3c3c" stroke-width="0.7"/>
<circle cx="656.7" cy="204.3" r="2.55" fill="#ffa6a6" stroke="#3c3c3c" stroke-width="0.7"/>
<circle cx="656.7" cy="223.1" r="2.55" fill="#ffa6a6" stroke="#3c3c3c" stroke-width="0.7"/>
<line x1="90.8" y1="526" x2="90.8" y2="533.5" stroke="#000" stroke-width="1.4"/>
<line x1="90.8" y1="555.7" x2="90.8" y2="571.9" stroke="#000" stroke-width="1.4"/>
<line x1="83.8" y1="526" x2="97.8" y2="526" stroke="#000" stroke-width="1.4"/>
<line x1="83.8" y1="571.9" x2="97.8" y2="571.9" stroke="#000" stroke-width="1.4"/>
<rect x="79.6" y="533.5" width="22.4" height="22.2" fill="#a9bee6" stroke="#000" stroke-width="1.4"/>
<line x1="79.6" y1="542" x2="102" y2="542" stroke="#000" stroke-width="1.5"/>
<circle cx="90.8" cy="515.9" r="2.55" fill="#a9bee6" stroke="#3c3c3c" stroke-width="0.7"/>
<circle cx="90.8" cy="523.8" r="2.55" fill="#a9bee6" stroke="#3c3c3c" stroke-width="0.7"/>
<circle cx="90.8" cy="526.2" r="2.55" fill="#a9bee6" stroke="#3c3c3c" stroke-width="0.7"/>
<circle cx="90.8" cy="533.2" r="2.55" fill="#a9bee6" stroke="#3c3c3c" stroke-width="0.7"/>
<circle cx="90.8" cy="541.9" r="2.55" fill="#a9bee6" stroke="#3c3c3c" stroke-width="0.7"/>
<circle cx="90.8" cy="550.8" r="2.55" fill="#a9bee6" stroke="#3c3c3c" stroke-width="0.7"/>
<circle cx="90.8" cy="555.3" r="2.55" fill="#a9bee6" stroke="#3c3c3c" stroke-width="0.7"/>
<circle cx="90.8" cy="559.3" r="2.55" fill="#a9bee6" stroke="#3c3c3c" stroke-width="0.7"/>
<circle cx="90.8" cy="568.3" r="2.55" fill="#a9bee6" stroke="#3c3c3c" stroke-width="0.7"/>
<circle cx="90.8" cy="576.9" r="2.55" fill="#a9bee6" stroke="#3c3c3c" stroke-width="0.7"/>
<circle cx="90.8" cy="585.7" r="2.55" fill="#a9bee6" stroke="#3c3c3c" stroke-width="0.7"/>
<line x1="120.4" y1="515" x2="120.4" y2="522.4" stroke="#000" stroke-width="1.4"/>
<line x1="120.4" y1="541.4" x2="120.4" y2="568.8" stroke="#000" stroke-width="1.4"/>
<line x1="113.4" y1="515" x2="127.4" y2="515" stroke="#000" stroke-width="1.4"/>
<line x1="113.4" y1="568.8" x2="127.4" y2="568.8" stroke="#000" stroke-width="1.4"/>
<rect x="109.2" y="522.4" width="22.4" height="19" fill="url(#hb)" stroke="#000" stroke-width="1.4"/>
<line x1="109.2" y1="534.4" x2="131.6" y2="534.4" stroke="#000" stroke-width="1.5"/>
<circle cx="120.4" cy="497.2" r="2.55" fill="#a9bee6" stroke="#3c3c3c" stroke-width="0.7"/>
<circle cx="120.4" cy="499.8" r="2.55" fill="#a9bee6" stroke="#3c3c3c" stroke-width="0.7"/>
<circle cx="120.4" cy="510.6" r="2.55" fill="#a9bee6" stroke="#3c3c3c" stroke-width="0.7"/>
<circle cx="120.4" cy="517.7" r="2.55" fill="#a9bee6" stroke="#3c3c3c" stroke-width="0.7"/>
<circle cx="120.4" cy="520.9" r="2.55" fill="#a9bee6" stroke="#3c3c3c" stroke-width="0.7"/>
<circle cx="120.4" cy="524" r="2.55" fill="#a9bee6" stroke="#3c3c3c" stroke-width="0.7"/>
<circle cx="120.4" cy="527.6" r="2.55" fill="#a9bee6" stroke="#3c3c3c" stroke-width="0.7"/>
<circle cx="120.4" cy="531.1" r="2.55" fill="#a9bee6" stroke="#3c3c3c" stroke-width="0.7"/>
<circle cx="120.4" cy="534.7" r="2.55" fill="#a9bee6" stroke="#3c3c3c" stroke-width="0.7"/>
<circle cx="120.4" cy="538.3" r="2.55" fill="#a9bee6" stroke="#3c3c3c" stroke-width="0.7"/>
<circle cx="120.4" cy="542.8" r="2.55" fill="#a9bee6" stroke="#3c3c3c" stroke-width="0.7"/>
<circle cx="120.4" cy="549" r="2.55" fill="#a9bee6" stroke="#3c3c3c" stroke-width="0.7"/>
<circle cx="120.4" cy="553.9" r="2.55" fill="#a9bee6" stroke="#3c3c3c" stroke-width="0.7"/>
<circle cx="120.4" cy="558.9" r="2.55" fill="#a9bee6" stroke="#3c3c3c" stroke-width="0.7"/>
<circle cx="120.4" cy="568.3" r="2.55" fill="#a9bee6" stroke="#3c3c3c" stroke-width="0.7"/>
<circle cx="120.4" cy="570.5" r="2.55" fill="#a9bee6" stroke="#3c3c3c" stroke-width="0.7"/>
<circle cx="120.4" cy="576.9" r="2.55" fill="#a9bee6" stroke="#3c3c3c" stroke-width="0.7"/>
<line x1="180" y1="505.2" x2="180" y2="522.1" stroke="#000" stroke-width="1.4"/>
<line x1="180" y1="550.2" x2="180" y2="563.5" stroke="#000" stroke-width="1.4"/>
<line x1="173" y1="505.2" x2="187" y2="505.2" stroke="#000" stroke-width="1.4"/>
<line x1="173" y1="563.5" x2="187" y2="563.5" stroke="#000" stroke-width="1.4"/>
<rect x="168.8" y="522.1" width="22.4" height="28.1" fill="#ffffff" stroke="#000" stroke-width="1.4"/>
<line x1="168.8" y1="536.9" x2="191.2" y2="536.9" stroke="#000" stroke-width="1.5"/>
<circle cx="180" cy="490.4" r="2.55" fill="#ffffff" stroke="#3c3c3c" stroke-width="0.7"/>
<circle cx="180" cy="499.8" r="2.55" fill="#ffffff" stroke="#3c3c3c" stroke-width="0.7"/>
<circle cx="180" cy="504.3" r="2.55" fill="#ffffff" stroke="#3c3c3c" stroke-width="0.7"/>
<circle cx="180" cy="507.8" r="2.55" fill="#ffffff" stroke="#3c3c3c" stroke-width="0.7"/>
<circle cx="180" cy="511" r="2.55" fill="#ffffff" stroke="#3c3c3c" stroke-width="0.7"/>
<circle cx="180" cy="519.5" r="2.55" fill="#ffffff" stroke="#3c3c3c" stroke-width="0.7"/>
<circle cx="180" cy="521.7" r="2.55" fill="#ffffff" stroke="#3c3c3c" stroke-width="0.7"/>
<circle cx="180" cy="525.3" r="2.55" fill="#ffffff" stroke="#3c3c3c" stroke-width="0.7"/>
<circle cx="180" cy="528.4" r="2.55" fill="#ffffff" stroke="#3c3c3c" stroke-width="0.7"/>
<circle cx="180" cy="531.8" r="2.55" fill="#ffffff" stroke="#3c3c3c" stroke-width="0.7"/>
<circle cx="180" cy="536.9" r="2.55" fill="#ffffff" stroke="#3c3c3c" stroke-width="0.7"/>
<circle cx="180" cy="543.2" r="2.55" fill="#ffffff" stroke="#3c3c3c" stroke-width="0.7"/>
<circle cx="180" cy="547.2" r="2.55" fill="#ffffff" stroke="#3c3c3c" stroke-width="0.7"/>
<circle cx="180" cy="552.4" r="2.55" fill="#ffffff" stroke="#3c3c3c" stroke-width="0.7"/>
<circle cx="180" cy="555" r="2.55" fill="#ffffff" stroke="#3c3c3c" stroke-width="0.7"/>
<circle cx="180" cy="559.9" r="2.55" fill="#ffffff" stroke="#3c3c3c" stroke-width="0.7"/>
<circle cx="180" cy="569" r="2.55" fill="#ffffff" stroke="#3c3c3c" stroke-width="0.7"/>
<circle cx="180" cy="576.9" r="2.55" fill="#ffffff" stroke="#3c3c3c" stroke-width="0.7"/>
<circle cx="180" cy="581.3" r="2.55" fill="#ffffff" stroke="#3c3c3c" stroke-width="0.7"/>
<line x1="209.7" y1="486.4" x2="209.7" y2="500.2" stroke="#000" stroke-width="1.4"/>
<line x1="209.7" y1="532.4" x2="209.7" y2="542.4" stroke="#000" stroke-width="1.4"/>
<line x1="202.7" y1="486.4" x2="216.7" y2="486.4" stroke="#000" stroke-width="1.4"/>
<line x1="202.7" y1="542.4" x2="216.7" y2="542.4" stroke="#000" stroke-width="1.4"/>
<rect x="198.5" y="500.2" width="22.4" height="32.2" fill="url(#hw)" stroke="#000" stroke-width="1.4"/>
<line x1="198.5" y1="519" x2="220.9" y2="519" stroke="#000" stroke-width="1.5"/>
<circle cx="209.7" cy="472.1" r="2.55" fill="#ffffff" stroke="#3c3c3c" stroke-width="0.7"/>
<circle cx="209.7" cy="476.5" r="2.55" fill="#ffffff" stroke="#3c3c3c" stroke-width="0.7"/>
<circle cx="209.7" cy="485.5" r="2.55" fill="#ffffff" stroke="#3c3c3c" stroke-width="0.7"/>
<circle cx="209.7" cy="489.5" r="2.55" fill="#ffffff" stroke="#3c3c3c" stroke-width="0.7"/>
<circle cx="209.7" cy="499.8" r="2.55" fill="#ffffff" stroke="#3c3c3c" stroke-width="0.7"/>
<circle cx="209.7" cy="506.5" r="2.55" fill="#ffffff" stroke="#3c3c3c" stroke-width="0.7"/>
<circle cx="209.7" cy="511.4" r="2.55" fill="#ffffff" stroke="#3c3c3c" stroke-width="0.7"/>
<circle cx="209.7" cy="516.3" r="2.55" fill="#ffffff" stroke="#3c3c3c" stroke-width="0.7"/>
<circle cx="209.7" cy="523.5" r="2.55" fill="#ffffff" stroke="#3c3c3c" stroke-width="0.7"/>
<circle cx="209.7" cy="528" r="2.55" fill="#ffffff" stroke="#3c3c3c" stroke-width="0.7"/>
<circle cx="209.7" cy="531.1" r="2.55" fill="#ffffff" stroke="#3c3c3c" stroke-width="0.7"/>
<circle cx="209.7" cy="536" r="2.55" fill="#ffffff" stroke="#3c3c3c" stroke-width="0.7"/>
<circle cx="209.7" cy="540" r="2.55" fill="#ffffff" stroke="#3c3c3c" stroke-width="0.7"/>
<circle cx="209.7" cy="543.8" r="2.55" fill="#ffffff" stroke="#3c3c3c" stroke-width="0.7"/>
<circle cx="209.7" cy="565.5" r="2.55" fill="#ffffff" stroke="#3c3c3c" stroke-width="0.7"/>
<circle cx="209.7" cy="574.3" r="2.55" fill="#ffffff" stroke="#3c3c3c" stroke-width="0.7"/>
<line x1="269.3" y1="450.4" x2="269.3" y2="470.2" stroke="#000" stroke-width="1.4"/>
<line x1="269.3" y1="515.9" x2="269.3" y2="529.2" stroke="#000" stroke-width="1.4"/>
<line x1="262.3" y1="450.4" x2="276.3" y2="450.4" stroke="#000" stroke-width="1.4"/>
<line x1="262.3" y1="529.2" x2="276.3" y2="529.2" stroke="#000" stroke-width="1.4"/>
<rect x="258.1" y="470.2" width="22.4" height="45.7" fill="#ffa6a6" stroke="#000" stroke-width="1.4"/>
<line x1="258.1" y1="507.3" x2="280.5" y2="507.3" stroke="#000" stroke-width="1.5"/>
<circle cx="269.3" cy="428.4" r="2.55" fill="#ffa6a6" stroke="#3c3c3c" stroke-width="0.7"/>
<circle cx="269.3" cy="445.8" r="2.55" fill="#ffa6a6" stroke="#3c3c3c" stroke-width="0.7"/>
<circle cx="269.3" cy="454.8" r="2.55" fill="#ffa6a6" stroke="#3c3c3c" stroke-width="0.7"/>
<circle cx="269.3" cy="463.4" r="2.55" fill="#ffa6a6" stroke="#3c3c3c" stroke-width="0.7"/>
<circle cx="269.3" cy="472.3" r="2.55" fill="#ffa6a6" stroke="#3c3c3c" stroke-width="0.7"/>
<circle cx="269.3" cy="480.8" r="2.55" fill="#ffa6a6" stroke="#3c3c3c" stroke-width="0.7"/>
<circle cx="269.3" cy="489.6" r="2.55" fill="#ffa6a6" stroke="#3c3c3c" stroke-width="0.7"/>
<circle cx="269.3" cy="498.1" r="2.55" fill="#ffa6a6" stroke="#3c3c3c" stroke-width="0.7"/>
<circle cx="269.3" cy="507.1" r="2.55" fill="#ffa6a6" stroke="#3c3c3c" stroke-width="0.7"/>
<circle cx="269.3" cy="515.6" r="2.55" fill="#ffa6a6" stroke="#3c3c3c" stroke-width="0.7"/>
<circle cx="269.3" cy="520.9" r="2.55" fill="#ffa6a6" stroke="#3c3c3c" stroke-width="0.7"/>
<circle cx="269.3" cy="524.8" r="2.55" fill="#ffa6a6" stroke="#3c3c3c" stroke-width="0.7"/>
<circle cx="269.3" cy="533.4" r="2.55" fill="#ffa6a6" stroke="#3c3c3c" stroke-width="0.7"/>
<circle cx="269.3" cy="541.8" r="2.55" fill="#ffa6a6" stroke="#3c3c3c" stroke-width="0.7"/>
<line x1="299" y1="406.6" x2="299" y2="428.5" stroke="#000" stroke-width="1.4"/>
<line x1="299" y1="474" x2="299" y2="494.3" stroke="#000" stroke-width="1.4"/>
<line x1="292" y1="406.6" x2="306" y2="406.6" stroke="#000" stroke-width="1.4"/>
<line x1="292" y1="494.3" x2="306" y2="494.3" stroke="#000" stroke-width="1.4"/>
<rect x="287.8" y="428.5" width="22.4" height="45.5" fill="url(#hp)" stroke="#000" stroke-width="1.4"/>
<line x1="287.8" y1="457.4" x2="310.2" y2="457.4" stroke="#000" stroke-width="1.5"/>
<circle cx="299" cy="402.1" r="2.55" fill="#ffa6a6" stroke="#3c3c3c" stroke-width="0.7"/>
<circle cx="299" cy="411" r="2.55" fill="#ffa6a6" stroke="#3c3c3c" stroke-width="0.7"/>
<circle cx="299" cy="419.8" r="2.55" fill="#ffa6a6" stroke="#3c3c3c" stroke-width="0.7"/>
<circle cx="299" cy="428.5" r="2.55" fill="#ffa6a6" stroke="#3c3c3c" stroke-width="0.7"/>
<circle cx="299" cy="437.3" r="2.55" fill="#ffa6a6" stroke="#3c3c3c" stroke-width="0.7"/>
<circle cx="299" cy="445.8" r="2.55" fill="#ffa6a6" stroke="#3c3c3c" stroke-width="0.7"/>
<circle cx="299" cy="454.8" r="2.55" fill="#ffa6a6" stroke="#3c3c3c" stroke-width="0.7"/>
<circle cx="299" cy="459.2" r="2.55" fill="#ffa6a6" stroke="#3c3c3c" stroke-width="0.7"/>
<circle cx="299" cy="463.4" r="2.55" fill="#ffa6a6" stroke="#3c3c3c" stroke-width="0.7"/>
<circle cx="299" cy="468.4" r="2.55" fill="#ffa6a6" stroke="#3c3c3c" stroke-width="0.7"/>
<circle cx="299" cy="471.5" r="2.55" fill="#ffa6a6" stroke="#3c3c3c" stroke-width="0.7"/>
<circle cx="299" cy="481" r="2.55" fill="#ffa6a6" stroke="#3c3c3c" stroke-width="0.7"/>
<circle cx="299" cy="489.8" r="2.55" fill="#ffa6a6" stroke="#3c3c3c" stroke-width="0.7"/>
<circle cx="299" cy="498.4" r="2.55" fill="#ffa6a6" stroke="#3c3c3c" stroke-width="0.7"/>
<line x1="448.5" y1="517.5" x2="448.5" y2="530.9" stroke="#000" stroke-width="1.4"/>
<line x1="448.5" y1="556.1" x2="448.5" y2="562.7" stroke="#000" stroke-width="1.4"/>
<line x1="441.5" y1="517.5" x2="455.5" y2="517.5" stroke="#000" stroke-width="1.4"/>
<line x1="441.5" y1="562.7" x2="455.5" y2="562.7" stroke="#000" stroke-width="1.4"/>
<rect x="437.3" y="530.9" width="22.4" height="25.2" fill="#a9bee6" stroke="#000" stroke-width="1.4"/>
<line x1="437.3" y1="548.6" x2="459.7" y2="548.6" stroke="#000" stroke-width="1.5"/>
<circle cx="448.5" cy="462.9" r="2.55" fill="#a9bee6" stroke="#3c3c3c" stroke-width="0.7"/>
<circle cx="448.5" cy="482" r="2.55" fill="#a9bee6" stroke="#3c3c3c" stroke-width="0.7"/>
<circle cx="448.5" cy="511" r="2.55" fill="#a9bee6" stroke="#3c3c3c" stroke-width="0.7"/>
<circle cx="448.5" cy="520.4" r="2.55" fill="#a9bee6" stroke="#3c3c3c" stroke-width="0.7"/>
<circle cx="448.5" cy="523" r="2.55" fill="#a9bee6" stroke="#3c3c3c" stroke-width="0.7"/>
<circle cx="448.5" cy="525.7" r="2.55" fill="#a9bee6" stroke="#3c3c3c" stroke-width="0.7"/>
<circle cx="448.5" cy="530" r="2.55" fill="#a9bee6" stroke="#3c3c3c" stroke-width="0.7"/>
<circle cx="448.5" cy="536.2" r="2.55" fill="#a9bee6" stroke="#3c3c3c" stroke-width="0.7"/>
<circle cx="448.5" cy="541.4" r="2.55" fill="#a9bee6" stroke="#3c3c3c" stroke-width="0.7"/>
<circle cx="448.5" cy="544.9" r="2.55" fill="#a9bee6" stroke="#3c3c3c" stroke-width="0.7"/>
<circle cx="448.5" cy="547.6" r="2.55" fill="#a9bee6" stroke="#3c3c3c" stroke-width="0.7"/>
<circle cx="448.5" cy="551.5" r="2.55" fill="#a9bee6" stroke="#3c3c3c" stroke-width="0.7"/>
<circle cx="448.5" cy="555.4" r="2.55" fill="#a9bee6" stroke="#3c3c3c" stroke-width="0.7"/>
<circle cx="448.5" cy="558.5" r="2.55" fill="#a9bee6" stroke="#3c3c3c" stroke-width="0.7"/>
<circle cx="448.5" cy="562.4" r="2.55" fill="#a9bee6" stroke="#3c3c3c" stroke-width="0.7"/>
<circle cx="448.5" cy="566" r="2.55" fill="#a9bee6" stroke="#3c3c3c" stroke-width="0.7"/>
<circle cx="448.5" cy="569" r="2.55" fill="#a9bee6" stroke="#3c3c3c" stroke-width="0.7"/>
<line x1="478.1" y1="463.8" x2="478.1" y2="504.5" stroke="#000" stroke-width="1.4"/>
<line x1="478.1" y1="544.5" x2="478.1" y2="556.7" stroke="#000" stroke-width="1.4"/>
<line x1="471.1" y1="463.8" x2="485.1" y2="463.8" stroke="#000" stroke-width="1.4"/>
<line x1="471.1" y1="556.7" x2="485.1" y2="556.7" stroke="#000" stroke-width="1.4"/>
<rect x="466.9" y="504.5" width="22.4" height="40" fill="url(#hb)" stroke="#000" stroke-width="1.4"/>
<line x1="466.9" y1="531.3" x2="489.3" y2="531.3" stroke="#000" stroke-width="1.5"/>
<circle cx="478.1" cy="425.4" r="2.55" fill="#a9bee6" stroke="#3c3c3c" stroke-width="0.7"/>
<circle cx="478.1" cy="438" r="2.55" fill="#a9bee6" stroke="#3c3c3c" stroke-width="0.7"/>
<circle cx="478.1" cy="459.6" r="2.55" fill="#a9bee6" stroke="#3c3c3c" stroke-width="0.7"/>
<circle cx="478.1" cy="466.4" r="2.55" fill="#a9bee6" stroke="#3c3c3c" stroke-width="0.7"/>
<circle cx="478.1" cy="472.6" r="2.55" fill="#a9bee6" stroke="#3c3c3c" stroke-width="0.7"/>
<circle cx="478.1" cy="479.8" r="2.55" fill="#a9bee6" stroke="#3c3c3c" stroke-width="0.7"/>
<circle cx="478.1" cy="495.8" r="2.55" fill="#a9bee6" stroke="#3c3c3c" stroke-width="0.7"/>
<circle cx="478.1" cy="503.8" r="2.55" fill="#a9bee6" stroke="#3c3c3c" stroke-width="0.7"/>
<circle cx="478.1" cy="507.3" r="2.55" fill="#a9bee6" stroke="#3c3c3c" stroke-width="0.7"/>
<circle cx="478.1" cy="510.8" r="2.55" fill="#a9bee6" stroke="#3c3c3c" stroke-width="0.7"/>
<circle cx="478.1" cy="521.3" r="2.55" fill="#a9bee6" stroke="#3c3c3c" stroke-width="0.7"/>
<circle cx="478.1" cy="525.2" r="2.55" fill="#a9bee6" stroke="#3c3c3c" stroke-width="0.7"/>
<circle cx="478.1" cy="530" r="2.55" fill="#a9bee6" stroke="#3c3c3c" stroke-width="0.7"/>
<circle cx="478.1" cy="535.3" r="2.55" fill="#a9bee6" stroke="#3c3c3c" stroke-width="0.7"/>
<circle cx="478.1" cy="538.8" r="2.55" fill="#a9bee6" stroke="#3c3c3c" stroke-width="0.7"/>
<circle cx="478.1" cy="542.7" r="2.55" fill="#a9bee6" stroke="#3c3c3c" stroke-width="0.7"/>
<circle cx="478.1" cy="545.8" r="2.55" fill="#a9bee6" stroke="#3c3c3c" stroke-width="0.7"/>
<circle cx="478.1" cy="552.8" r="2.55" fill="#a9bee6" stroke="#3c3c3c" stroke-width="0.7"/>
<circle cx="478.1" cy="556.3" r="2.55" fill="#a9bee6" stroke="#3c3c3c" stroke-width="0.7"/>
<circle cx="478.1" cy="560.3" r="2.55" fill="#a9bee6" stroke="#3c3c3c" stroke-width="0.7"/>
<circle cx="478.1" cy="563.8" r="2.55" fill="#a9bee6" stroke="#3c3c3c" stroke-width="0.7"/>
<line x1="537.7" y1="517.3" x2="537.7" y2="525.4" stroke="#000" stroke-width="1.4"/>
<line x1="537.7" y1="552.4" x2="537.7" y2="561.4" stroke="#000" stroke-width="1.4"/>
<line x1="530.7" y1="517.3" x2="544.7" y2="517.3" stroke="#000" stroke-width="1.4"/>
<line x1="530.7" y1="561.4" x2="544.7" y2="561.4" stroke="#000" stroke-width="1.4"/>
<rect x="526.5" y="525.4" width="22.4" height="27" fill="#ffffff" stroke="#000" stroke-width="1.4"/>
<line x1="526.5" y1="544.9" x2="548.9" y2="544.9" stroke="#000" stroke-width="1.5"/>
<circle cx="537.7" cy="463.8" r="2.55" fill="#ffffff" stroke="#3c3c3c" stroke-width="0.7"/>
<circle cx="537.7" cy="509.9" r="2.55" fill="#ffffff" stroke="#3c3c3c" stroke-width="0.7"/>
<circle cx="537.7" cy="513.8" r="2.55" fill="#ffffff" stroke="#3c3c3c" stroke-width="0.7"/>
<circle cx="537.7" cy="518.2" r="2.55" fill="#ffffff" stroke="#3c3c3c" stroke-width="0.7"/>
<circle cx="537.7" cy="523" r="2.55" fill="#ffffff" stroke="#3c3c3c" stroke-width="0.7"/>
<circle cx="537.7" cy="529.2" r="2.55" fill="#ffffff" stroke="#3c3c3c" stroke-width="0.7"/>
<circle cx="537.7" cy="535.7" r="2.55" fill="#ffffff" stroke="#3c3c3c" stroke-width="0.7"/>
<circle cx="537.7" cy="542.7" r="2.55" fill="#ffffff" stroke="#3c3c3c" stroke-width="0.7"/>
<circle cx="537.7" cy="548.4" r="2.55" fill="#ffffff" stroke="#3c3c3c" stroke-width="0.7"/>
<circle cx="537.7" cy="551.9" r="2.55" fill="#ffffff" stroke="#3c3c3c" stroke-width="0.7"/>
<circle cx="537.7" cy="556.8" r="2.55" fill="#ffffff" stroke="#3c3c3c" stroke-width="0.7"/>
<circle cx="537.7" cy="560.3" r="2.55" fill="#ffffff" stroke="#3c3c3c" stroke-width="0.7"/>
<circle cx="537.7" cy="562.9" r="2.55" fill="#ffffff" stroke="#3c3c3c" stroke-width="0.7"/>
<circle cx="537.7" cy="571.2" r="2.55" fill="#ffffff" stroke="#3c3c3c" stroke-width="0.7"/>
<line x1="567.4" y1="458.2" x2="567.4" y2="494.3" stroke="#000" stroke-width="1.4"/>
<line x1="567.4" y1="534.4" x2="567.4" y2="548.2" stroke="#000" stroke-width="1.4"/>
<line x1="560.4" y1="458.2" x2="574.4" y2="458.2" stroke="#000" stroke-width="1.4"/>
<line x1="560.4" y1="548.2" x2="574.4" y2="548.2" stroke="#000" stroke-width="1.4"/>
<rect x="556.2" y="494.3" width="22.4" height="40.1" fill="url(#hw)" stroke="#000" stroke-width="1.4"/>
<line x1="556.2" y1="519.1" x2="578.6" y2="519.1" stroke="#000" stroke-width="1.5"/>
<circle cx="567.4" cy="362.4" r="2.55" fill="#ffffff" stroke="#3c3c3c" stroke-width="0.7"/>
<circle cx="567.4" cy="414.2" r="2.55" fill="#ffffff" stroke="#3c3c3c" stroke-width="0.7"/>
<circle cx="567.4" cy="454" r="2.55" fill="#ffffff" stroke="#3c3c3c" stroke-width="0.7"/>
<circle cx="567.4" cy="460.6" r="2.55" fill="#ffffff" stroke="#3c3c3c" stroke-width="0.7"/>
<circle cx="567.4" cy="468" r="2.55" fill="#ffffff" stroke="#3c3c3c" stroke-width="0.7"/>
<circle cx="567.4" cy="475.9" r="2.55" fill="#ffffff" stroke="#3c3c3c" stroke-width="0.7"/>
<circle cx="567.4" cy="479.9" r="2.55" fill="#ffffff" stroke="#3c3c3c" stroke-width="0.7"/>
<circle cx="567.4" cy="493.4" r="2.55" fill="#ffffff" stroke="#3c3c3c" stroke-width="0.7"/>
<circle cx="567.4" cy="496.1" r="2.55" fill="#ffffff" stroke="#3c3c3c" stroke-width="0.7"/>
<circle cx="567.4" cy="501.6" r="2.55" fill="#ffffff" stroke="#3c3c3c" stroke-width="0.7"/>
<circle cx="567.4" cy="506.8" r="2.55" fill="#ffffff" stroke="#3c3c3c" stroke-width="0.7"/>
<circle cx="567.4" cy="513.4" r="2.55" fill="#ffffff" stroke="#3c3c3c" stroke-width="0.7"/>
<circle cx="567.4" cy="518.6" r="2.55" fill="#ffffff" stroke="#3c3c3c" stroke-width="0.7"/>
<circle cx="567.4" cy="523.9" r="2.55" fill="#ffffff" stroke="#3c3c3c" stroke-width="0.7"/>
<circle cx="567.4" cy="529.2" r="2.55" fill="#ffffff" stroke="#3c3c3c" stroke-width="0.7"/>
<circle cx="567.4" cy="534.4" r="2.55" fill="#ffffff" stroke="#3c3c3c" stroke-width="0.7"/>
<circle cx="567.4" cy="537" r="2.55" fill="#ffffff" stroke="#3c3c3c" stroke-width="0.7"/>
<circle cx="567.4" cy="542.7" r="2.55" fill="#ffffff" stroke="#3c3c3c" stroke-width="0.7"/>
<circle cx="567.4" cy="546.7" r="2.55" fill="#ffffff" stroke="#3c3c3c" stroke-width="0.7"/>
<circle cx="567.4" cy="551.1" r="2.55" fill="#ffffff" stroke="#3c3c3c" stroke-width="0.7"/>
<circle cx="567.4" cy="557.2" r="2.55" fill="#ffffff" stroke="#3c3c3c" stroke-width="0.7"/>
<line x1="627" y1="437.7" x2="627" y2="491.5" stroke="#000" stroke-width="1.4"/>
<line x1="627" y1="543.1" x2="627" y2="555.5" stroke="#000" stroke-width="1.4"/>
<line x1="620" y1="437.7" x2="634" y2="437.7" stroke="#000" stroke-width="1.4"/>
<line x1="620" y1="555.5" x2="634" y2="555.5" stroke="#000" stroke-width="1.4"/>
<rect x="615.8" y="491.5" width="22.4" height="51.6" fill="#ffa6a6" stroke="#000" stroke-width="1.4"/>
<line x1="615.8" y1="528.2" x2="638.2" y2="528.2" stroke="#000" stroke-width="1.5"/>
<circle cx="627" cy="345.6" r="2.55" fill="#ffa6a6" stroke="#3c3c3c" stroke-width="0.7"/>
<circle cx="627" cy="435.7" r="2.55" fill="#ffa6a6" stroke="#3c3c3c" stroke-width="0.7"/>
<circle cx="627" cy="439.7" r="2.55" fill="#ffa6a6" stroke="#3c3c3c" stroke-width="0.7"/>
<circle cx="627" cy="470.9" r="2.55" fill="#ffa6a6" stroke="#3c3c3c" stroke-width="0.7"/>
<circle cx="627" cy="477.7" r="2.55" fill="#ffa6a6" stroke="#3c3c3c" stroke-width="0.7"/>
<circle cx="627" cy="487.3" r="2.55" fill="#ffa6a6" stroke="#3c3c3c" stroke-width="0.7"/>
<circle cx="627" cy="493" r="2.55" fill="#ffa6a6" stroke="#3c3c3c" stroke-width="0.7"/>
<circle cx="627" cy="501.8" r="2.55" fill="#ffa6a6" stroke="#3c3c3c" stroke-width="0.7"/>
<circle cx="627" cy="507.9" r="2.55" fill="#ffa6a6" stroke="#3c3c3c" stroke-width="0.7"/>
<circle cx="627" cy="511.4" r="2.55" fill="#ffa6a6" stroke="#3c3c3c" stroke-width="0.7"/>
<circle cx="627" cy="513.2" r="2.55" fill="#ffa6a6" stroke="#3c3c3c" stroke-width="0.7"/>
<circle cx="627" cy="519.3" r="2.55" fill="#ffa6a6" stroke="#3c3c3c" stroke-width="0.7"/>
<circle cx="627" cy="523.2" r="2.55" fill="#ffa6a6" stroke="#3c3c3c" stroke-width="0.7"/>
<circle cx="627" cy="526.3" r="2.55" fill="#ffa6a6" stroke="#3c3c3c" stroke-width="0.7"/>
<circle cx="627" cy="528.9" r="2.55" fill="#ffa6a6" stroke="#3c3c3c" stroke-width="0.7"/>
<circle cx="627" cy="532.9" r="2.55" fill="#ffa6a6" stroke="#3c3c3c" stroke-width="0.7"/>
<circle cx="627" cy="536" r="2.55" fill="#ffa6a6" stroke="#3c3c3c" stroke-width="0.7"/>
<circle cx="627" cy="539.4" r="2.55" fill="#ffa6a6" stroke="#3c3c3c" stroke-width="0.7"/>
<circle cx="627" cy="542" r="2.55" fill="#ffa6a6" stroke="#3c3c3c" stroke-width="0.7"/>
<circle cx="627" cy="545.4" r="2.55" fill="#ffa6a6" stroke="#3c3c3c" stroke-width="0.7"/>
<circle cx="627" cy="548" r="2.55" fill="#ffa6a6" stroke="#3c3c3c" stroke-width="0.7"/>
<circle cx="627" cy="553.3" r="2.55" fill="#ffa6a6" stroke="#3c3c3c" stroke-width="0.7"/>
<circle cx="627" cy="555.9" r="2.55" fill="#ffa6a6" stroke="#3c3c3c" stroke-width="0.7"/>
<circle cx="627" cy="559" r="2.55" fill="#ffa6a6" stroke="#3c3c3c" stroke-width="0.7"/>
<line x1="656.7" y1="387.2" x2="656.7" y2="428.7" stroke="#000" stroke-width="1.4"/>
<line x1="656.7" y1="501.1" x2="656.7" y2="530.4" stroke="#000" stroke-width="1.4"/>
<line x1="649.7" y1="387.2" x2="663.7" y2="387.2" stroke="#000" stroke-width="1.4"/>
<line x1="649.7" y1="530.4" x2="663.7" y2="530.4" stroke="#000" stroke-width="1.4"/>
<rect x="645.5" y="428.7" width="22.4" height="72.4" fill="url(#hp)" stroke="#000" stroke-width="1.4"/>
<line x1="645.5" y1="469.3" x2="667.9" y2="469.3" stroke="#000" stroke-width="1.5"/>
<circle cx="656.7" cy="334.8" r="2.55" fill="#ffa6a6" stroke="#3c3c3c" stroke-width="0.7"/>
<circle cx="656.7" cy="381.5" r="2.55" fill="#ffa6a6" stroke="#3c3c3c" stroke-width="0.7"/>
<circle cx="656.7" cy="399.7" r="2.55" fill="#ffa6a6" stroke="#3c3c3c" stroke-width="0.7"/>
<circle cx="656.7" cy="403.2" r="2.55" fill="#ffa6a6" stroke="#3c3c3c" stroke-width="0.7"/>
<circle cx="656.7" cy="419.1" r="2.55" fill="#ffa6a6" stroke="#3c3c3c" stroke-width="0.7"/>
<circle cx="656.7" cy="427.4" r="2.55" fill="#ffa6a6" stroke="#3c3c3c" stroke-width="0.7"/>
<circle cx="656.7" cy="430.9" r="2.55" fill="#ffa6a6" stroke="#3c3c3c" stroke-width="0.7"/>
<circle cx="656.7" cy="434.9" r="2.55" fill="#ffa6a6" stroke="#3c3c3c" stroke-width="0.7"/>
<circle cx="656.7" cy="452.8" r="2.55" fill="#ffa6a6" stroke="#3c3c3c" stroke-width="0.7"/>
<circle cx="656.7" cy="455.4" r="2.55" fill="#ffa6a6" stroke="#3c3c3c" stroke-width="0.7"/>
<circle cx="656.7" cy="459.8" r="2.55" fill="#ffa6a6" stroke="#3c3c3c" stroke-width="0.7"/>
<circle cx="656.7" cy="463.3" r="2.55" fill="#ffa6a6" stroke="#3c3c3c" stroke-width="0.7"/>
<circle cx="656.7" cy="466.8" r="2.55" fill="#ffa6a6" stroke="#3c3c3c" stroke-width="0.7"/>
<circle cx="656.7" cy="472.1" r="2.55" fill="#ffa6a6" stroke="#3c3c3c" stroke-width="0.7"/>
<circle cx="656.7" cy="479.5" r="2.55" fill="#ffa6a6" stroke="#3c3c3c" stroke-width="0.7"/>
<circle cx="656.7" cy="490" r="2.55" fill="#ffa6a6" stroke="#3c3c3c" stroke-width="0.7"/>
<circle cx="656.7" cy="494.8" r="2.55" fill="#ffa6a6" stroke="#3c3c3c" stroke-width="0.7"/>
<circle cx="656.7" cy="503.5" r="2.55" fill="#ffa6a6" stroke="#3c3c3c" stroke-width="0.7"/>
<circle cx="656.7" cy="511" r="2.55" fill="#ffa6a6" stroke="#3c3c3c" stroke-width="0.7"/>
<circle cx="656.7" cy="517.6" r="2.55" fill="#ffa6a6" stroke="#3c3c3c" stroke-width="0.7"/>
<circle cx="656.7" cy="523.2" r="2.55" fill="#ffa6a6" stroke="#3c3c3c" stroke-width="0.7"/>
<circle cx="656.7" cy="533.1" r="2.55" fill="#ffa6a6" stroke="#3c3c3c" stroke-width="0.7"/>
<circle cx="656.7" cy="535.8" r="2.55" fill="#ffa6a6" stroke="#3c3c3c" stroke-width="0.7"/>
<circle cx="656.7" cy="548.5" r="2.55" fill="#ffa6a6" stroke="#3c3c3c" stroke-width="0.7"/>
<line x1="90.8" y1="843.2" x2="90.8" y2="860.5" stroke="#000" stroke-width="1.4"/>
<line x1="90.8" y1="876.2" x2="90.8" y2="884.3" stroke="#000" stroke-width="1.4"/>
<line x1="83.8" y1="843.2" x2="97.8" y2="843.2" stroke="#000" stroke-width="1.4"/>
<line x1="83.8" y1="884.3" x2="97.8" y2="884.3" stroke="#000" stroke-width="1.4"/>
<rect x="79.6" y="860.5" width="22.4" height="15.7" fill="#a9bee6" stroke="#000" stroke-width="1.4"/>
<line x1="79.6" y1="868.4" x2="102" y2="868.4" stroke="#000" stroke-width="1.5"/>
<circle cx="90.8" cy="829.8" r="2.55" fill="#a9bee6" stroke="#3c3c3c" stroke-width="0.7"/>
<circle cx="90.8" cy="835.5" r="2.55" fill="#a9bee6" stroke="#3c3c3c" stroke-width="0.7"/>
<circle cx="90.8" cy="841.2" r="2.55" fill="#a9bee6" stroke="#3c3c3c" stroke-width="0.7"/>
<circle cx="90.8" cy="844.7" r="2.55" fill="#a9bee6" stroke="#3c3c3c" stroke-width="0.7"/>
<circle cx="90.8" cy="850.8" r="2.55" fill="#a9bee6" stroke="#3c3c3c" stroke-width="0.7"/>
<circle cx="90.8" cy="856.1" r="2.55" fill="#a9bee6" stroke="#3c3c3c" stroke-width="0.7"/>
<circle cx="90.8" cy="862.7" r="2.55" fill="#a9bee6" stroke="#3c3c3c" stroke-width="0.7"/>
<circle cx="90.8" cy="866.6" r="2.55" fill="#a9bee6" stroke="#3c3c3c" stroke-width="0.7"/>
<circle cx="90.8" cy="869.2" r="2.55" fill="#a9bee6" stroke="#3c3c3c" stroke-width="0.7"/>
<circle cx="90.8" cy="872.3" r="2.55" fill="#a9bee6" stroke="#3c3c3c" stroke-width="0.7"/>
<circle cx="90.8" cy="875.8" r="2.55" fill="#a9bee6" stroke="#3c3c3c" stroke-width="0.7"/>
<circle cx="90.8" cy="879.7" r="2.55" fill="#a9bee6" stroke="#3c3c3c" stroke-width="0.7"/>
<circle cx="90.8" cy="883.2" r="2.55" fill="#a9bee6" stroke="#3c3c3c" stroke-width="0.7"/>
<circle cx="90.8" cy="888.1" r="2.55" fill="#a9bee6" stroke="#3c3c3c" stroke-width="0.7"/>
<line x1="120.4" y1="843" x2="120.4" y2="857.6" stroke="#000" stroke-width="1.4"/>
<line x1="120.4" y1="886.3" x2="120.4" y2="890.9" stroke="#000" stroke-width="1.4"/>
<line x1="113.4" y1="843" x2="127.4" y2="843" stroke="#000" stroke-width="1.4"/>
<line x1="113.4" y1="890.9" x2="127.4" y2="890.9" stroke="#000" stroke-width="1.4"/>
<rect x="109.2" y="857.6" width="22.4" height="28.7" fill="url(#hb)" stroke="#000" stroke-width="1.4"/>
<line x1="109.2" y1="876.7" x2="131.6" y2="876.7" stroke="#000" stroke-width="1.5"/>
<circle cx="120.4" cy="834.6" r="2.55" fill="#a9bee6" stroke="#3c3c3c" stroke-width="0.7"/>
<circle cx="120.4" cy="840.3" r="2.55" fill="#a9bee6" stroke="#3c3c3c" stroke-width="0.7"/>
<circle cx="120.4" cy="843.8" r="2.55" fill="#a9bee6" stroke="#3c3c3c" stroke-width="0.7"/>
<circle cx="120.4" cy="847.3" r="2.55" fill="#a9bee6" stroke="#3c3c3c" stroke-width="0.7"/>
<circle cx="120.4" cy="851.3" r="2.55" fill="#a9bee6" stroke="#3c3c3c" stroke-width="0.7"/>
<circle cx="120.4" cy="857.4" r="2.55" fill="#a9bee6" stroke="#3c3c3c" stroke-width="0.7"/>
<circle cx="120.4" cy="864.9" r="2.55" fill="#a9bee6" stroke="#3c3c3c" stroke-width="0.7"/>
<circle cx="120.4" cy="866.2" r="2.55" fill="#a9bee6" stroke="#3c3c3c" stroke-width="0.7"/>
<circle cx="120.4" cy="876.7" r="2.55" fill="#a9bee6" stroke="#3c3c3c" stroke-width="0.7"/>
<circle cx="120.4" cy="879.3" r="2.55" fill="#a9bee6" stroke="#3c3c3c" stroke-width="0.7"/>
<circle cx="120.4" cy="884.6" r="2.55" fill="#a9bee6" stroke="#3c3c3c" stroke-width="0.7"/>
<circle cx="120.4" cy="887.6" r="2.55" fill="#a9bee6" stroke="#3c3c3c" stroke-width="0.7"/>
<circle cx="120.4" cy="892" r="2.55" fill="#a9bee6" stroke="#3c3c3c" stroke-width="0.7"/>
<circle cx="120.4" cy="895.1" r="2.55" fill="#a9bee6" stroke="#3c3c3c" stroke-width="0.7"/>
<line x1="180" y1="830.5" x2="180" y2="843" stroke="#000" stroke-width="1.4"/>
<line x1="180" y1="865.3" x2="180" y2="873.5" stroke="#000" stroke-width="1.4"/>
<line x1="173" y1="830.5" x2="187" y2="830.5" stroke="#000" stroke-width="1.4"/>
<line x1="173" y1="873.5" x2="187" y2="873.5" stroke="#000" stroke-width="1.4"/>
<rect x="168.8" y="843" width="22.4" height="22.3" fill="#ffffff" stroke="#000" stroke-width="1.4"/>
<line x1="168.8" y1="856.9" x2="191.2" y2="856.9" stroke="#000" stroke-width="1.5"/>
<circle cx="180" cy="801.4" r="2.55" fill="#ffffff" stroke="#3c3c3c" stroke-width="0.7"/>
<circle cx="180" cy="807.1" r="2.55" fill="#ffffff" stroke="#3c3c3c" stroke-width="0.7"/>
<circle cx="180" cy="829.9" r="2.55" fill="#ffffff" stroke="#3c3c3c" stroke-width="0.7"/>
<circle cx="180" cy="833.8" r="2.55" fill="#ffffff" stroke="#3c3c3c" stroke-width="0.7"/>
<circle cx="180" cy="837.3" r="2.55" fill="#ffffff" stroke="#3c3c3c" stroke-width="0.7"/>
<circle cx="180" cy="840.4" r="2.55" fill="#ffffff" stroke="#3c3c3c" stroke-width="0.7"/>
<circle cx="180" cy="843.4" r="2.55" fill="#ffffff" stroke="#3c3c3c" stroke-width="0.7"/>
<circle cx="180" cy="848.2" r="2.55" fill="#ffffff" stroke="#3c3c3c" stroke-width="0.7"/>
<circle cx="180" cy="851.3" r="2.55" fill="#ffffff" stroke="#3c3c3c" stroke-width="0.7"/>
<circle cx="180" cy="854.8" r="2.55" fill="#ffffff" stroke="#3c3c3c" stroke-width="0.7"/>
<circle cx="180" cy="858.3" r="2.55" fill="#ffffff" stroke="#3c3c3c" stroke-width="0.7"/>
<circle cx="180" cy="861.8" r="2.55" fill="#ffffff" stroke="#3c3c3c" stroke-width="0.7"/>
<circle cx="180" cy="864.8" r="2.55" fill="#ffffff" stroke="#3c3c3c" stroke-width="0.7"/>
<circle cx="180" cy="867.1" r="2.55" fill="#ffffff" stroke="#3c3c3c" stroke-width="0.7"/>
<circle cx="180" cy="870.6" r="2.55" fill="#ffffff" stroke="#3c3c3c" stroke-width="0.7"/>
<circle cx="180" cy="875.4" r="2.55" fill="#ffffff" stroke="#3c3c3c" stroke-width="0.7"/>
<line x1="209.7" y1="832.5" x2="209.7" y2="847.6" stroke="#000" stroke-width="1.4"/>
<line x1="209.7" y1="879.9" x2="209.7" y2="884.4" stroke="#000" stroke-width="1.4"/>
<line x1="202.7" y1="832.5" x2="216.7" y2="832.5" stroke="#000" stroke-width="1.4"/>
<line x1="202.7" y1="884.4" x2="216.7" y2="884.4" stroke="#000" stroke-width="1.4"/>
<rect x="198.5" y="847.6" width="22.4" height="32.3" fill="url(#hw)" stroke="#000" stroke-width="1.4"/>
<line x1="198.5" y1="868.2" x2="220.9" y2="868.2" stroke="#000" stroke-width="1.5"/>
<circle cx="209.7" cy="814.1" r="2.55" fill="#ffffff" stroke="#3c3c3c" stroke-width="0.7"/>
<circle cx="209.7" cy="826.8" r="2.55" fill="#ffffff" stroke="#3c3c3c" stroke-width="0.7"/>
<circle cx="209.7" cy="829.4" r="2.55" fill="#ffffff" stroke="#3c3c3c" stroke-width="0.7"/>
<circle cx="209.7" cy="831.6" r="2.55" fill="#ffffff" stroke="#3c3c3c" stroke-width="0.7"/>
<circle cx="209.7" cy="834.7" r="2.55" fill="#ffffff" stroke="#3c3c3c" stroke-width="0.7"/>
<circle cx="209.7" cy="841.7" r="2.55" fill="#ffffff" stroke="#3c3c3c" stroke-width="0.7"/>
<circle cx="209.7" cy="846.5" r="2.55" fill="#ffffff" stroke="#3c3c3c" stroke-width="0.7"/>
<circle cx="209.7" cy="851.8" r="2.55" fill="#ffffff" stroke="#3c3c3c" stroke-width="0.7"/>
<circle cx="209.7" cy="857" r="2.55" fill="#ffffff" stroke="#3c3c3c" stroke-width="0.7"/>
<circle cx="209.7" cy="862.7" r="2.55" fill="#ffffff" stroke="#3c3c3c" stroke-width="0.7"/>
<circle cx="209.7" cy="866.5" r="2.55" fill="#ffffff" stroke="#3c3c3c" stroke-width="0.7"/>
<circle cx="209.7" cy="869.7" r="2.55" fill="#ffffff" stroke="#3c3c3c" stroke-width="0.7"/>
<circle cx="209.7" cy="873.6" r="2.55" fill="#ffffff" stroke="#3c3c3c" stroke-width="0.7"/>
<circle cx="209.7" cy="877.6" r="2.55" fill="#ffffff" stroke="#3c3c3c" stroke-width="0.7"/>
<circle cx="209.7" cy="881.1" r="2.55" fill="#ffffff" stroke="#3c3c3c" stroke-width="0.7"/>
<circle cx="209.7" cy="885" r="2.55" fill="#ffffff" stroke="#3c3c3c" stroke-width="0.7"/>
<circle cx="209.7" cy="891.6" r="2.55" fill="#ffffff" stroke="#3c3c3c" stroke-width="0.7"/>
<line x1="269.3" y1="748.4" x2="269.3" y2="785.4" stroke="#000" stroke-width="1.4"/>
<line x1="269.3" y1="828.2" x2="269.3" y2="837.3" stroke="#000" stroke-width="1.4"/>
<line x1="262.3" y1="748.4" x2="276.3" y2="748.4" stroke="#000" stroke-width="1.4"/>
<line x1="262.3" y1="837.3" x2="276.3" y2="837.3" stroke="#000" stroke-width="1.4"/>
<rect x="258.1" y="785.4" width="22.4" height="42.8" fill="#ffa6a6" stroke="#000" stroke-width="1.4"/>
<line x1="258.1" y1="803.3" x2="280.5" y2="803.3" stroke="#000" stroke-width="1.5"/>
<circle cx="269.3" cy="704.5" r="2.55" fill="#ffa6a6" stroke="#3c3c3c" stroke-width="0.7"/>
<circle cx="269.3" cy="729" r="2.55" fill="#ffa6a6" stroke="#3c3c3c" stroke-width="0.7"/>
<circle cx="269.3" cy="735.7" r="2.55" fill="#ffa6a6" stroke="#3c3c3c" stroke-width="0.7"/>
<circle cx="269.3" cy="761.1" r="2.55" fill="#ffa6a6" stroke="#3c3c3c" stroke-width="0.7"/>
<circle cx="269.3" cy="769.4" r="2.55" fill="#ffa6a6" stroke="#3c3c3c" stroke-width="0.7"/>
<circle cx="269.3" cy="783.4" r="2.55" fill="#ffa6a6" stroke="#3c3c3c" stroke-width="0.7"/>
<circle cx="269.3" cy="788.5" r="2.55" fill="#ffa6a6" stroke="#3c3c3c" stroke-width="0.7"/>
<circle cx="269.3" cy="793.5" r="2.55" fill="#ffa6a6" stroke="#3c3c3c" stroke-width="0.7"/>
<circle cx="269.3" cy="797" r="2.55" fill="#ffa6a6" stroke="#3c3c3c" stroke-width="0.7"/>
<circle cx="269.3" cy="800.9" r="2.55" fill="#ffa6a6" stroke="#3c3c3c" stroke-width="0.7"/>
<circle cx="269.3" cy="803.5" r="2.55" fill="#ffa6a6" stroke="#3c3c3c" stroke-width="0.7"/>
<circle cx="269.3" cy="808.8" r="2.55" fill="#ffa6a6" stroke="#3c3c3c" stroke-width="0.7"/>
<circle cx="269.3" cy="812.7" r="2.55" fill="#ffa6a6" stroke="#3c3c3c" stroke-width="0.7"/>
<circle cx="269.3" cy="815.8" r="2.55" fill="#ffa6a6" stroke="#3c3c3c" stroke-width="0.7"/>
<circle cx="269.3" cy="820.2" r="2.55" fill="#ffa6a6" stroke="#3c3c3c" stroke-width="0.7"/>
<circle cx="269.3" cy="823.2" r="2.55" fill="#ffa6a6" stroke="#3c3c3c" stroke-width="0.7"/>
<circle cx="269.3" cy="828.1" r="2.55" fill="#ffa6a6" stroke="#3c3c3c" stroke-width="0.7"/>
<circle cx="269.3" cy="832.2" r="2.55" fill="#ffa6a6" stroke="#3c3c3c" stroke-width="0.7"/>
<circle cx="269.3" cy="836.8" r="2.55" fill="#ffa6a6" stroke="#3c3c3c" stroke-width="0.7"/>
<circle cx="269.3" cy="842.7" r="2.55" fill="#ffa6a6" stroke="#3c3c3c" stroke-width="0.7"/>
<circle cx="269.3" cy="848.6" r="2.55" fill="#ffa6a6" stroke="#3c3c3c" stroke-width="0.7"/>
<line x1="299" y1="743.4" x2="299" y2="781.6" stroke="#000" stroke-width="1.4"/>
<line x1="299" y1="863.5" x2="299" y2="875.5" stroke="#000" stroke-width="1.4"/>
<line x1="292" y1="743.4" x2="306" y2="743.4" stroke="#000" stroke-width="1.4"/>
<line x1="292" y1="875.5" x2="306" y2="875.5" stroke="#000" stroke-width="1.4"/>
<rect x="287.8" y="781.6" width="22.4" height="81.9" fill="url(#hp)" stroke="#000" stroke-width="1.4"/>
<line x1="287.8" y1="839.2" x2="310.2" y2="839.2" stroke="#000" stroke-width="1.5"/>
<circle cx="299" cy="716.9" r="2.55" fill="#ffa6a6" stroke="#3c3c3c" stroke-width="0.7"/>
<circle cx="299" cy="725.5" r="2.55" fill="#ffa6a6" stroke="#3c3c3c" stroke-width="0.7"/>
<circle cx="299" cy="738.8" r="2.55" fill="#ffa6a6" stroke="#3c3c3c" stroke-width="0.7"/>
<circle cx="299" cy="746.2" r="2.55" fill="#ffa6a6" stroke="#3c3c3c" stroke-width="0.7"/>
<circle cx="299" cy="757.9" r="2.55" fill="#ffa6a6" stroke="#3c3c3c" stroke-width="0.7"/>
<circle cx="299" cy="776.8" r="2.55" fill="#ffa6a6" stroke="#3c3c3c" stroke-width="0.7"/>
<circle cx="299" cy="780.8" r="2.55" fill="#ffa6a6" stroke="#3c3c3c" stroke-width="0.7"/>
<circle cx="299" cy="787.3" r="2.55" fill="#ffa6a6" stroke="#3c3c3c" stroke-width="0.7"/>
<circle cx="299" cy="812.7" r="2.55" fill="#ffa6a6" stroke="#3c3c3c" stroke-width="0.7"/>
<circle cx="299" cy="822.4" r="2.55" fill="#ffa6a6" stroke="#3c3c3c" stroke-width="0.7"/>
<circle cx="299" cy="837.9" r="2.55" fill="#ffa6a6" stroke="#3c3c3c" stroke-width="0.7"/>
<circle cx="299" cy="841.4" r="2.55" fill="#ffa6a6" stroke="#3c3c3c" stroke-width="0.7"/>
<circle cx="299" cy="846" r="2.55" fill="#ffa6a6" stroke="#3c3c3c" stroke-width="0.7"/>
<circle cx="299" cy="851.3" r="2.55" fill="#ffa6a6" stroke="#3c3c3c" stroke-width="0.7"/>
<circle cx="299" cy="856.5" r="2.55" fill="#ffa6a6" stroke="#3c3c3c" stroke-width="0.7"/>
<circle cx="299" cy="860.9" r="2.55" fill="#ffa6a6" stroke="#3c3c3c" stroke-width="0.7"/>
<circle cx="299" cy="863.5" r="2.55" fill="#ffa6a6" stroke="#3c3c3c" stroke-width="0.7"/>
<circle cx="299" cy="867.9" r="2.55" fill="#ffa6a6" stroke="#3c3c3c" stroke-width="0.7"/>
<circle cx="299" cy="870.5" r="2.55" fill="#ffa6a6" stroke="#3c3c3c" stroke-width="0.7"/>
<circle cx="299" cy="872.7" r="2.55" fill="#ffa6a6" stroke="#3c3c3c" stroke-width="0.7"/>
<circle cx="299" cy="875.8" r="2.55" fill="#ffa6a6" stroke="#3c3c3c" stroke-width="0.7"/>
<circle cx="299" cy="891.6" r="2.55" fill="#ffa6a6" stroke="#3c3c3c" stroke-width="0.7"/>
<circle cx="299" cy="899.5" r="2.55" fill="#ffa6a6" stroke="#3c3c3c" stroke-width="0.7"/>
<line x1="448.5" y1="788" x2="448.5" y2="814.2" stroke="#000" stroke-width="1.4"/>
<line x1="448.5" y1="851.3" x2="448.5" y2="856.4" stroke="#000" stroke-width="1.4"/>
<line x1="441.5" y1="788" x2="455.5" y2="788" stroke="#000" stroke-width="1.4"/>
<line x1="441.5" y1="856.4" x2="455.5" y2="856.4" stroke="#000" stroke-width="1.4"/>
<rect x="437.3" y="814.2" width="22.4" height="37.1" fill="#a9bee6" stroke="#000" stroke-width="1.4"/>
<line x1="437.3" y1="835.4" x2="459.7" y2="835.4" stroke="#000" stroke-width="1.5"/>
<circle cx="448.5" cy="784.3" r="2.55" fill="#a9bee6" stroke="#3c3c3c" stroke-width="0.7"/>
<circle cx="448.5" cy="786.5" r="2.55" fill="#a9bee6" stroke="#3c3c3c" stroke-width="0.7"/>
<circle cx="448.5" cy="788.4" r="2.55" fill="#a9bee6" stroke="#3c3c3c" stroke-width="0.7"/>
<circle cx="448.5" cy="796.5" r="2.55" fill="#a9bee6" stroke="#3c3c3c" stroke-width="0.7"/>
<circle cx="448.5" cy="798.7" r="2.55" fill="#a9bee6" stroke="#3c3c3c" stroke-width="0.7"/>
<circle cx="448.5" cy="800.9" r="2.55" fill="#a9bee6" stroke="#3c3c3c" stroke-width="0.7"/>
<circle cx="448.5" cy="811.7" r="2.55" fill="#a9bee6" stroke="#3c3c3c" stroke-width="0.7"/>
<circle cx="448.5" cy="815.2" r="2.55" fill="#a9bee6" stroke="#3c3c3c" stroke-width="0.7"/>
<circle cx="448.5" cy="817.5" r="2.55" fill="#a9bee6" stroke="#3c3c3c" stroke-width="0.7"/>
<circle cx="448.5" cy="821.1" r="2.55" fill="#a9bee6" stroke="#3c3c3c" stroke-width="0.7"/>
<circle cx="448.5" cy="828.7" r="2.55" fill="#a9bee6" stroke="#3c3c3c" stroke-width="0.7"/>
<circle cx="448.5" cy="830.9" r="2.55" fill="#a9bee6" stroke="#3c3c3c" stroke-width="0.7"/>
<circle cx="448.5" cy="835.8" r="2.55" fill="#a9bee6" stroke="#3c3c3c" stroke-width="0.7"/>
<circle cx="448.5" cy="838.9" r="2.55" fill="#a9bee6" stroke="#3c3c3c" stroke-width="0.7"/>
<circle cx="448.5" cy="842.1" r="2.55" fill="#a9bee6" stroke="#3c3c3c" stroke-width="0.7"/>
<circle cx="448.5" cy="845.6" r="2.55" fill="#a9bee6" stroke="#3c3c3c" stroke-width="0.7"/>
<circle cx="448.5" cy="849.2" r="2.55" fill="#a9bee6" stroke="#3c3c3c" stroke-width="0.7"/>
<circle cx="448.5" cy="852.8" r="2.55" fill="#a9bee6" stroke="#3c3c3c" stroke-width="0.7"/>
<circle cx="448.5" cy="855.5" r="2.55" fill="#a9bee6" stroke="#3c3c3c" stroke-width="0.7"/>
<circle cx="448.5" cy="859.1" r="2.55" fill="#a9bee6" stroke="#3c3c3c" stroke-width="0.7"/>
<circle cx="448.5" cy="861.6" r="2.55" fill="#a9bee6" stroke="#3c3c3c" stroke-width="0.7"/>
<line x1="478.1" y1="786.4" x2="478.1" y2="809.2" stroke="#000" stroke-width="1.4"/>
<line x1="478.1" y1="849.2" x2="478.1" y2="855.2" stroke="#000" stroke-width="1.4"/>
<line x1="471.1" y1="786.4" x2="485.1" y2="786.4" stroke="#000" stroke-width="1.4"/>
<line x1="471.1" y1="855.2" x2="485.1" y2="855.2" stroke="#000" stroke-width="1.4"/>
<rect x="466.9" y="809.2" width="22.4" height="40" fill="url(#hb)" stroke="#000" stroke-width="1.4"/>
<line x1="466.9" y1="834.7" x2="489.3" y2="834.7" stroke="#000" stroke-width="1.5"/>
<circle cx="478.1" cy="774.8" r="2.55" fill="#a9bee6" stroke="#3c3c3c" stroke-width="0.7"/>
<circle cx="478.1" cy="786.6" r="2.55" fill="#a9bee6" stroke="#3c3c3c" stroke-width="0.7"/>
<circle cx="478.1" cy="796.9" r="2.55" fill="#a9bee6" stroke="#3c3c3c" stroke-width="0.7"/>
<circle cx="478.1" cy="806.3" r="2.55" fill="#a9bee6" stroke="#3c3c3c" stroke-width="0.7"/>
<circle cx="478.1" cy="810.8" r="2.55" fill="#a9bee6" stroke="#3c3c3c" stroke-width="0.7"/>
<circle cx="478.1" cy="814.8" r="2.55" fill="#a9bee6" stroke="#3c3c3c" stroke-width="0.7"/>
<circle cx="478.1" cy="818.8" r="2.55" fill="#a9bee6" stroke="#3c3c3c" stroke-width="0.7"/>
<circle cx="478.1" cy="824.2" r="2.55" fill="#a9bee6" stroke="#3c3c3c" stroke-width="0.7"/>
<circle cx="478.1" cy="828.7" r="2.55" fill="#a9bee6" stroke="#3c3c3c" stroke-width="0.7"/>
<circle cx="478.1" cy="832.2" r="2.55" fill="#a9bee6" stroke="#3c3c3c" stroke-width="0.7"/>
<circle cx="478.1" cy="836.7" r="2.55" fill="#a9bee6" stroke="#3c3c3c" stroke-width="0.7"/>
<circle cx="478.1" cy="841.2" r="2.55" fill="#a9bee6" stroke="#3c3c3c" stroke-width="0.7"/>
<circle cx="478.1" cy="845.6" r="2.55" fill="#a9bee6" stroke="#3c3c3c" stroke-width="0.7"/>
<circle cx="478.1" cy="849.2" r="2.55" fill="#a9bee6" stroke="#3c3c3c" stroke-width="0.7"/>
<circle cx="478.1" cy="852.8" r="2.55" fill="#a9bee6" stroke="#3c3c3c" stroke-width="0.7"/>
<circle cx="478.1" cy="856.7" r="2.55" fill="#a9bee6" stroke="#3c3c3c" stroke-width="0.7"/>
<line x1="537.7" y1="786.5" x2="537.7" y2="801.4" stroke="#000" stroke-width="1.4"/>
<line x1="537.7" y1="836.9" x2="537.7" y2="845.8" stroke="#000" stroke-width="1.4"/>
<line x1="530.7" y1="786.5" x2="544.7" y2="786.5" stroke="#000" stroke-width="1.4"/>
<line x1="530.7" y1="845.8" x2="544.7" y2="845.8" stroke="#000" stroke-width="1.4"/>
<rect x="526.5" y="801.4" width="22.4" height="35.5" fill="#ffffff" stroke="#000" stroke-width="1.4"/>
<line x1="526.5" y1="823.2" x2="548.9" y2="823.2" stroke="#000" stroke-width="1.5"/>
<circle cx="537.7" cy="761.6" r="2.55" fill="#ffffff" stroke="#3c3c3c" stroke-width="0.7"/>
<circle cx="537.7" cy="766.8" r="2.55" fill="#ffffff" stroke="#3c3c3c" stroke-width="0.7"/>
<circle cx="537.7" cy="785.2" r="2.55" fill="#ffffff" stroke="#3c3c3c" stroke-width="0.7"/>
<circle cx="537.7" cy="787.8" r="2.55" fill="#ffffff" stroke="#3c3c3c" stroke-width="0.7"/>
<circle cx="537.7" cy="794.4" r="2.55" fill="#ffffff" stroke="#3c3c3c" stroke-width="0.7"/>
<circle cx="537.7" cy="800.1" r="2.55" fill="#ffffff" stroke="#3c3c3c" stroke-width="0.7"/>
<circle cx="537.7" cy="804.9" r="2.55" fill="#ffffff" stroke="#3c3c3c" stroke-width="0.7"/>
<circle cx="537.7" cy="809.7" r="2.55" fill="#ffffff" stroke="#3c3c3c" stroke-width="0.7"/>
<circle cx="537.7" cy="813.7" r="2.55" fill="#ffffff" stroke="#3c3c3c" stroke-width="0.7"/>
<circle cx="537.7" cy="818.3" r="2.55" fill="#ffffff" stroke="#3c3c3c" stroke-width="0.7"/>
<circle cx="537.7" cy="822.9" r="2.55" fill="#ffffff" stroke="#3c3c3c" stroke-width="0.7"/>
<circle cx="537.7" cy="826.6" r="2.55" fill="#ffffff" stroke="#3c3c3c" stroke-width="0.7"/>
<circle cx="537.7" cy="830.3" r="2.55" fill="#ffffff" stroke="#3c3c3c" stroke-width="0.7"/>
<circle cx="537.7" cy="833.5" r="2.55" fill="#ffffff" stroke="#3c3c3c" stroke-width="0.7"/>
<circle cx="537.7" cy="840" r="2.55" fill="#ffffff" stroke="#3c3c3c" stroke-width="0.7"/>
<circle cx="537.7" cy="843.5" r="2.55" fill="#ffffff" stroke="#3c3c3c" stroke-width="0.7"/>
<circle cx="537.7" cy="846.5" r="2.55" fill="#ffffff" stroke="#3c3c3c" stroke-width="0.7"/>
<circle cx="537.7" cy="853.1" r="2.55" fill="#ffffff" stroke="#3c3c3c" stroke-width="0.7"/>
<line x1="567.4" y1="773.8" x2="567.4" y2="792.4" stroke="#000" stroke-width="1.4"/>
<line x1="567.4" y1="838.8" x2="567.4" y2="846.4" stroke="#000" stroke-width="1.4"/>
<line x1="560.4" y1="773.8" x2="574.4" y2="773.8" stroke="#000" stroke-width="1.4"/>
<line x1="560.4" y1="846.4" x2="574.4" y2="846.4" stroke="#000" stroke-width="1.4"/>
<rect x="556.2" y="792.4" width="22.4" height="46.4" fill="url(#hw)" stroke="#000" stroke-width="1.4"/>
<line x1="556.2" y1="825.5" x2="578.6" y2="825.5" stroke="#000" stroke-width="1.5"/>
<circle cx="567.4" cy="761" r="2.55" fill="#ffffff" stroke="#3c3c3c" stroke-width="0.7"/>
<circle cx="567.4" cy="772.1" r="2.55" fill="#ffffff" stroke="#3c3c3c" stroke-width="0.7"/>
<circle cx="567.4" cy="774.7" r="2.55" fill="#ffffff" stroke="#3c3c3c" stroke-width="0.7"/>
<circle cx="567.4" cy="777.3" r="2.55" fill="#ffffff" stroke="#3c3c3c" stroke-width="0.7"/>
<circle cx="567.4" cy="783.5" r="2.55" fill="#ffffff" stroke="#3c3c3c" stroke-width="0.7"/>
<circle cx="567.4" cy="790" r="2.55" fill="#ffffff" stroke="#3c3c3c" stroke-width="0.7"/>
<circle cx="567.4" cy="793.5" r="2.55" fill="#ffffff" stroke="#3c3c3c" stroke-width="0.7"/>
<circle cx="567.4" cy="799.7" r="2.55" fill="#ffffff" stroke="#3c3c3c" stroke-width="0.7"/>
<circle cx="567.4" cy="805.4" r="2.55" fill="#ffffff" stroke="#3c3c3c" stroke-width="0.7"/>
<circle cx="567.4" cy="813.2" r="2.55" fill="#ffffff" stroke="#3c3c3c" stroke-width="0.7"/>
<circle cx="567.4" cy="815" r="2.55" fill="#ffffff" stroke="#3c3c3c" stroke-width="0.7"/>
<circle cx="567.4" cy="820.5" r="2.55" fill="#ffffff" stroke="#3c3c3c" stroke-width="0.7"/>
<circle cx="567.4" cy="824.6" r="2.55" fill="#ffffff" stroke="#3c3c3c" stroke-width="0.7"/>
<circle cx="567.4" cy="831.4" r="2.55" fill="#ffffff" stroke="#3c3c3c" stroke-width="0.7"/>
<circle cx="567.4" cy="838.6" r="2.55" fill="#ffffff" stroke="#3c3c3c" stroke-width="0.7"/>
<circle cx="567.4" cy="843" r="2.55" fill="#ffffff" stroke="#3c3c3c" stroke-width="0.7"/>
<circle cx="567.4" cy="846.5" r="2.55" fill="#ffffff" stroke="#3c3c3c" stroke-width="0.7"/>
<circle cx="567.4" cy="850" r="2.55" fill="#ffffff" stroke="#3c3c3c" stroke-width="0.7"/>
<circle cx="567.4" cy="857.9" r="2.55" fill="#ffffff" stroke="#3c3c3c" stroke-width="0.7"/>
<line x1="627" y1="726.2" x2="627" y2="754.2" stroke="#000" stroke-width="1.4"/>
<line x1="627" y1="796.2" x2="627" y2="819.5" stroke="#000" stroke-width="1.4"/>
<line x1="620" y1="726.2" x2="634" y2="726.2" stroke="#000" stroke-width="1.4"/>
<line x1="620" y1="819.5" x2="634" y2="819.5" stroke="#000" stroke-width="1.4"/>
<rect x="615.8" y="754.2" width="22.4" height="42" fill="#ffa6a6" stroke="#000" stroke-width="1.4"/>
<line x1="615.8" y1="778.2" x2="638.2" y2="778.2" stroke="#000" stroke-width="1.5"/>
<circle cx="627" cy="714.6" r="2.55" fill="#ffa6a6" stroke="#3c3c3c" stroke-width="0.7"/>
<circle cx="627" cy="725.7" r="2.55" fill="#ffa6a6" stroke="#3c3c3c" stroke-width="0.7"/>
<circle cx="627" cy="730.5" r="2.55" fill="#ffa6a6" stroke="#3c3c3c" stroke-width="0.7"/>
<circle cx="627" cy="737.1" r="2.55" fill="#ffa6a6" stroke="#3c3c3c" stroke-width="0.7"/>
<circle cx="627" cy="740.2" r="2.55" fill="#ffa6a6" stroke="#3c3c3c" stroke-width="0.7"/>
<circle cx="627" cy="754.3" r="2.55" fill="#ffa6a6" stroke="#3c3c3c" stroke-width="0.7"/>
<circle cx="627" cy="756.8" r="2.55" fill="#ffa6a6" stroke="#3c3c3c" stroke-width="0.7"/>
<circle cx="627" cy="771.5" r="2.55" fill="#ffa6a6" stroke="#3c3c3c" stroke-width="0.7"/>
<circle cx="627" cy="774.5" r="2.55" fill="#ffa6a6" stroke="#3c3c3c" stroke-width="0.7"/>
<circle cx="627" cy="777.2" r="2.55" fill="#ffa6a6" stroke="#3c3c3c" stroke-width="0.7"/>
<circle cx="627" cy="781.5" r="2.55" fill="#ffa6a6" stroke="#3c3c3c" stroke-width="0.7"/>
<circle cx="627" cy="785" r="2.55" fill="#ffa6a6" stroke="#3c3c3c" stroke-width="0.7"/>
<circle cx="627" cy="788.5" r="2.55" fill="#ffa6a6" stroke="#3c3c3c" stroke-width="0.7"/>
<circle cx="627" cy="794.7" r="2.55" fill="#ffa6a6" stroke="#3c3c3c" stroke-width="0.7"/>
<circle cx="627" cy="800.8" r="2.55" fill="#ffa6a6" stroke="#3c3c3c" stroke-width="0.7"/>
<circle cx="627" cy="810.4" r="2.55" fill="#ffa6a6" stroke="#3c3c3c" stroke-width="0.7"/>
<circle cx="627" cy="814.7" r="2.55" fill="#ffa6a6" stroke="#3c3c3c" stroke-width="0.7"/>
<circle cx="627" cy="819.5" r="2.55" fill="#ffa6a6" stroke="#3c3c3c" stroke-width="0.7"/>
<circle cx="627" cy="824.6" r="2.55" fill="#ffa6a6" stroke="#3c3c3c" stroke-width="0.7"/>
<circle cx="627" cy="830.3" r="2.55" fill="#ffa6a6" stroke="#3c3c3c" stroke-width="0.7"/>
<line x1="656.7" y1="718.5" x2="656.7" y2="744.6" stroke="#000" stroke-width="1.4"/>
<line x1="656.7" y1="814.3" x2="656.7" y2="830.4" stroke="#000" stroke-width="1.4"/>
<line x1="649.7" y1="718.5" x2="663.7" y2="718.5" stroke="#000" stroke-width="1.4"/>
<line x1="649.7" y1="830.4" x2="663.7" y2="830.4" stroke="#000" stroke-width="1.4"/>
<rect x="645.5" y="744.6" width="22.4" height="69.7" fill="url(#hp)" stroke="#000" stroke-width="1.4"/>
<line x1="645.5" y1="788.1" x2="667.9" y2="788.1" stroke="#000" stroke-width="1.5"/>
<circle cx="656.7" cy="693.3" r="2.55" fill="#ffa6a6" stroke="#3c3c3c" stroke-width="0.7"/>
<circle cx="656.7" cy="709.1" r="2.55" fill="#ffa6a6" stroke="#3c3c3c" stroke-width="0.7"/>
<circle cx="656.7" cy="711.7" r="2.55" fill="#ffa6a6" stroke="#3c3c3c" stroke-width="0.7"/>
<circle cx="656.7" cy="724" r="2.55" fill="#ffa6a6" stroke="#3c3c3c" stroke-width="0.7"/>
<circle cx="656.7" cy="730.5" r="2.55" fill="#ffa6a6" stroke="#3c3c3c" stroke-width="0.7"/>
<circle cx="656.7" cy="733.6" r="2.55" fill="#ffa6a6" stroke="#3c3c3c" stroke-width="0.7"/>
<circle cx="656.7" cy="744.6" r="2.55" fill="#ffa6a6" stroke="#3c3c3c" stroke-width="0.7"/>
<circle cx="656.7" cy="755.5" r="2.55" fill="#ffa6a6" stroke="#3c3c3c" stroke-width="0.7"/>
<circle cx="656.7" cy="762.4" r="2.55" fill="#ffa6a6" stroke="#3c3c3c" stroke-width="0.7"/>
<circle cx="656.7" cy="768.8" r="2.55" fill="#ffa6a6" stroke="#3c3c3c" stroke-width="0.7"/>
<circle cx="656.7" cy="774.5" r="2.55" fill="#ffa6a6" stroke="#3c3c3c" stroke-width="0.7"/>
<circle cx="656.7" cy="782.4" r="2.55" fill="#ffa6a6" stroke="#3c3c3c" stroke-width="0.7"/>
<circle cx="656.7" cy="786.8" r="2.55" fill="#ffa6a6" stroke="#3c3c3c" stroke-width="0.7"/>
<circle cx="656.7" cy="790.3" r="2.55" fill="#ffa6a6" stroke="#3c3c3c" stroke-width="0.7"/>
<circle cx="656.7" cy="794.7" r="2.55" fill="#ffa6a6" stroke="#3c3c3c" stroke-width="0.7"/>
<circle cx="656.7" cy="801.7" r="2.55" fill="#ffa6a6" stroke="#3c3c3c" stroke-width="0.7"/>
<circle cx="656.7" cy="810.5" r="2.55" fill="#ffa6a6" stroke="#3c3c3c" stroke-width="0.7"/>
<circle cx="656.7" cy="814.7" r="2.55" fill="#ffa6a6" stroke="#3c3c3c" stroke-width="0.7"/>
<circle cx="656.7" cy="819.1" r="2.55" fill="#ffa6a6" stroke="#3c3c3c" stroke-width="0.7"/>
<circle cx="656.7" cy="828.1" r="2.55" fill="#ffa6a6" stroke="#3c3c3c" stroke-width="0.7"/>
<circle cx="656.7" cy="830.4" r="2.55" fill="#ffa6a6" stroke="#3c3c3c" stroke-width="0.7"/>
<circle cx="656.7" cy="840.5" r="2.55" fill="#ffa6a6" stroke="#3c3c3c" stroke-width="0.7"/>
<circle cx="656.7" cy="863.2" r="2.55" fill="#ffa6a6" stroke="#3c3c3c" stroke-width="0.7"/>
<rect x="221.9" y="972.9" width="34.6" height="12.6" fill="#a9bee6" stroke="#000" stroke-width="1.4"/>
<rect x="221.9" y="989.8" width="34.6" height="12.6" fill="url(#hb)" stroke="#000" stroke-width="1.4"/>
<text x="264.9" y="983.6" font-size="15.2" fill="#000">Low MS</text>
<text x="264.9" y="1000.4" font-size="15.2" fill="#000">Low SS</text>
<rect x="331.1" y="972.9" width="34.6" height="12.6" fill="#ffffff" stroke="#000" stroke-width="1.4"/>
<rect x="331.1" y="989.8" width="34.6" height="12.6" fill="url(#hw)" stroke="#000" stroke-width="1.4"/>
<text x="374.3" y="983.6" font-size="15.2" fill="#000">Medium MS</text>
<text x="374.3" y="1000.4" font-size="15.2" fill="#000">Medium SS</text>
<rect x="469.2" y="972.9" width="34.6" height="12.6" fill="#ffa6a6" stroke="#000" stroke-width="1.4"/>
<rect x="469.2" y="989.8" width="34.6" height="12.6" fill="url(#hp)" stroke="#000" stroke-width="1.4"/>
<text x="512" y="983.6" font-size="15.2" fill="#000">High MS</text>
<text x="512" y="1000.4" font-size="15.2" fill="#000">High SS</text>
</svg></body></html>
